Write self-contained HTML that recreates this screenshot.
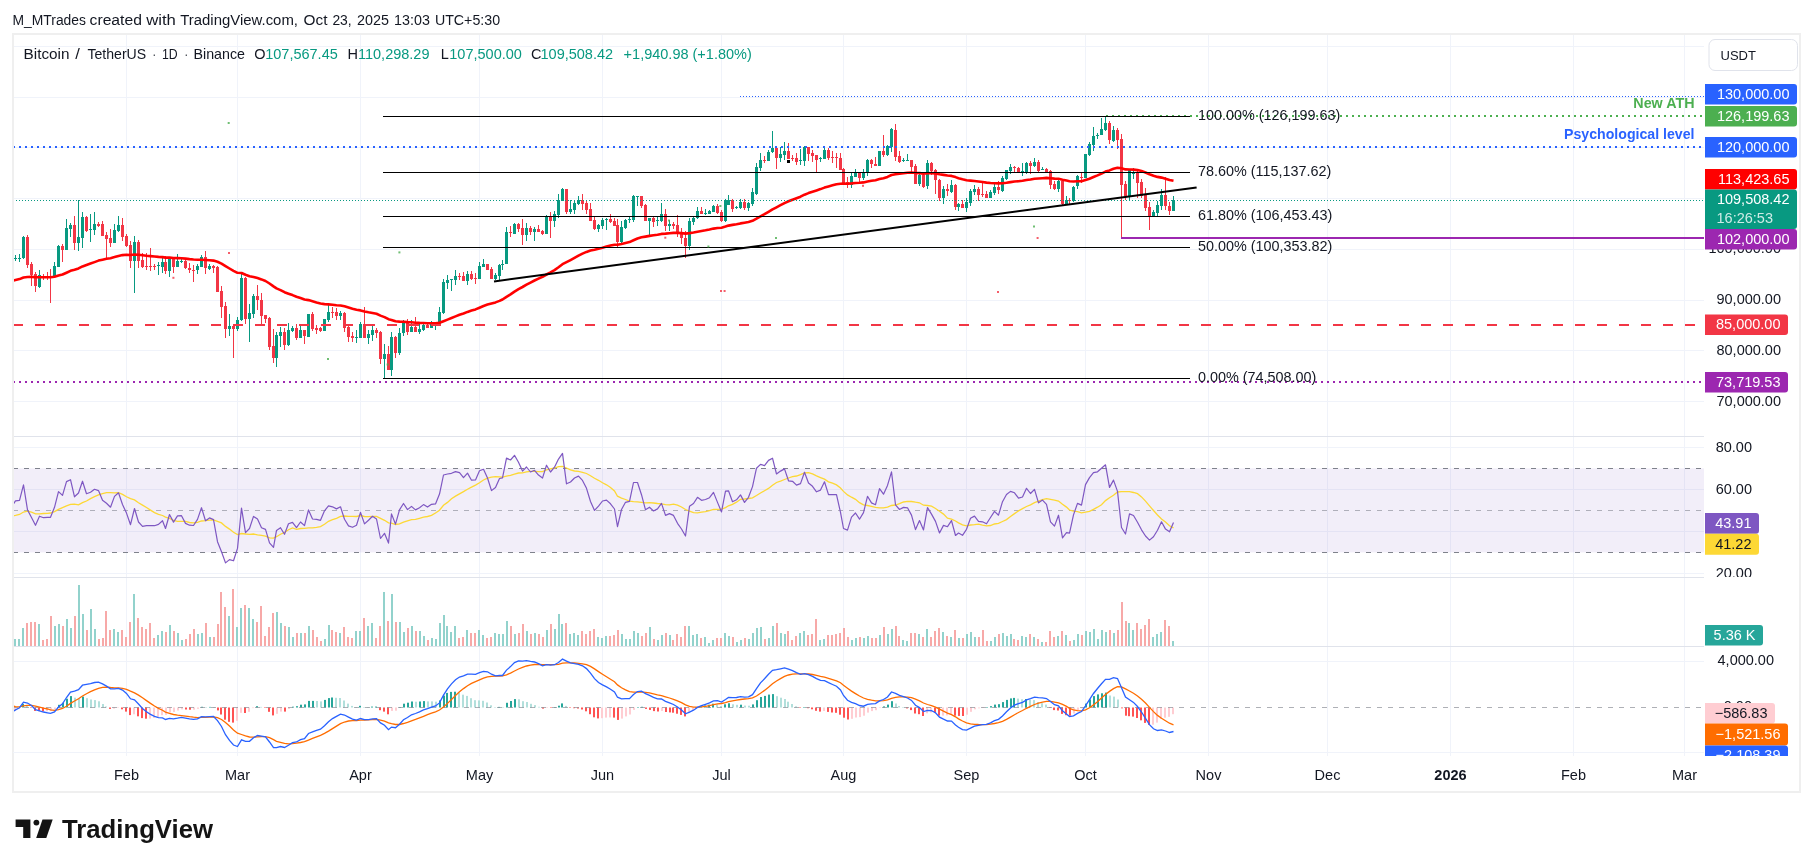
<!DOCTYPE html>
<html><head><meta charset="utf-8"><style>
html,body{margin:0;padding:0;background:#fff;width:1814px;height:867px;overflow:hidden}
svg text{font-family:"Liberation Sans", sans-serif}
svg{will-change:transform}
</style></head><body>
<svg width="1814" height="867" viewBox="0 0 1814 867">
<defs>
<clipPath id="clipc"><rect x="13" y="34" width="1691" height="718"/></clipPath>
<clipPath id="cliprsi"><rect x="1700" y="437" width="100" height="140"/></clipPath><clipPath id="clipm"><rect x="1700" y="646" width="100" height="110"/></clipPath>
</defs>
<rect width="1814" height="867" fill="#fff"/>
<g clip-path="url(#clipc)">
<line x1="126.5" y1="34" x2="126.5" y2="756" stroke="#f0f3fa" stroke-width="1"/>
<line x1="237.5" y1="34" x2="237.5" y2="756" stroke="#f0f3fa" stroke-width="1"/>
<line x1="360.5" y1="34" x2="360.5" y2="756" stroke="#f0f3fa" stroke-width="1"/>
<line x1="479.5" y1="34" x2="479.5" y2="756" stroke="#f0f3fa" stroke-width="1"/>
<line x1="602.5" y1="34" x2="602.5" y2="756" stroke="#f0f3fa" stroke-width="1"/>
<line x1="721.5" y1="34" x2="721.5" y2="756" stroke="#f0f3fa" stroke-width="1"/>
<line x1="843.5" y1="34" x2="843.5" y2="756" stroke="#f0f3fa" stroke-width="1"/>
<line x1="966.5" y1="34" x2="966.5" y2="756" stroke="#f0f3fa" stroke-width="1"/>
<line x1="1085.5" y1="34" x2="1085.5" y2="756" stroke="#f0f3fa" stroke-width="1"/>
<line x1="1208.5" y1="34" x2="1208.5" y2="756" stroke="#f0f3fa" stroke-width="1"/>
<line x1="1327.5" y1="34" x2="1327.5" y2="756" stroke="#f0f3fa" stroke-width="1"/>
<line x1="1450.5" y1="34" x2="1450.5" y2="756" stroke="#f0f3fa" stroke-width="1"/>
<line x1="1573.5" y1="34" x2="1573.5" y2="756" stroke="#f0f3fa" stroke-width="1"/>
<line x1="1684.5" y1="34" x2="1684.5" y2="756" stroke="#f0f3fa" stroke-width="1"/>
<line x1="13" y1="401.5" x2="1704" y2="401.5" stroke="#f0f3fa" stroke-width="1"/>
<line x1="13" y1="350.5" x2="1704" y2="350.5" stroke="#f0f3fa" stroke-width="1"/>
<line x1="13" y1="300.5" x2="1704" y2="300.5" stroke="#f0f3fa" stroke-width="1"/>
<line x1="13" y1="249.5" x2="1704" y2="249.5" stroke="#f0f3fa" stroke-width="1"/>
<line x1="13" y1="198.5" x2="1704" y2="198.5" stroke="#f0f3fa" stroke-width="1"/>
<line x1="13" y1="147.5" x2="1704" y2="147.5" stroke="#f0f3fa" stroke-width="1"/>
<line x1="13" y1="97.5" x2="1704" y2="97.5" stroke="#f0f3fa" stroke-width="1"/>
<line x1="13" y1="46.5" x2="1704" y2="46.5" stroke="#f0f3fa" stroke-width="1"/>
<line x1="13" y1="447.5" x2="1704" y2="447.5" stroke="#f0f3fa" stroke-width="1"/>
<line x1="13" y1="489.5" x2="1704" y2="489.5" stroke="#f0f3fa" stroke-width="1"/>
<line x1="13" y1="531.5" x2="1704" y2="531.5" stroke="#f0f3fa" stroke-width="1"/>
<line x1="13" y1="573.5" x2="1704" y2="573.5" stroke="#f0f3fa" stroke-width="1"/>
<line x1="13" y1="661.5" x2="1704" y2="661.5" stroke="#f0f3fa" stroke-width="1"/>
<line x1="13" y1="436.5" x2="1800" y2="436.5" stroke="#e0e3eb" stroke-width="1"/>
<line x1="13" y1="577.5" x2="1800" y2="577.5" stroke="#e0e3eb" stroke-width="1"/>
<line x1="13" y1="646.5" x2="1800" y2="646.5" stroke="#e0e3eb" stroke-width="1"/>
<line x1="13" y1="752.5" x2="1704" y2="752.5" stroke="#f0f3fa" stroke-width="1"/>
<g shape-rendering="crispEdges"><rect x="15.0" y="255" width="1" height="6" fill="#089981"/><rect x="14.0" y="258" width="3" height="1" fill="#089981"/><rect x="19.0" y="254" width="1" height="8" fill="#089981"/><rect x="18.0" y="258" width="3" height="1" fill="#089981"/><rect x="23.0" y="236" width="1" height="23" fill="#089981"/><rect x="22.0" y="237" width="3" height="21" fill="#089981"/><rect x="27.0" y="235" width="1" height="33" fill="#f23645"/><rect x="26.0" y="237" width="3" height="28" fill="#f23645"/><rect x="31.0" y="262" width="1" height="24" fill="#f23645"/><rect x="30.0" y="264" width="3" height="11" fill="#f23645"/><rect x="35.0" y="272" width="1" height="20" fill="#f23645"/><rect x="34.0" y="274" width="3" height="12" fill="#f23645"/><rect x="39.0" y="270" width="1" height="18" fill="#089981"/><rect x="38.0" y="275" width="3" height="12" fill="#089981"/><rect x="43.0" y="274" width="1" height="6" fill="#f23645"/><rect x="42.0" y="276" width="3" height="2" fill="#f23645"/><rect x="47.0" y="272" width="1" height="8" fill="#f23645"/><rect x="46.0" y="276" width="3" height="1" fill="#f23645"/><rect x="50.0" y="269" width="1" height="34" fill="#f23645"/><rect x="49.0" y="276" width="3" height="1" fill="#f23645"/><rect x="54.0" y="262" width="1" height="15" fill="#089981"/><rect x="53.0" y="266" width="3" height="11" fill="#089981"/><rect x="58.0" y="245" width="1" height="22" fill="#089981"/><rect x="57.0" y="246" width="3" height="21" fill="#089981"/><rect x="62.0" y="244" width="1" height="18" fill="#f23645"/><rect x="61.0" y="246" width="3" height="4" fill="#f23645"/><rect x="66.0" y="219" width="1" height="31" fill="#089981"/><rect x="65.0" y="228" width="3" height="22" fill="#089981"/><rect x="70.0" y="223" width="1" height="14" fill="#089981"/><rect x="69.0" y="225" width="3" height="4" fill="#089981"/><rect x="74.0" y="216" width="1" height="34" fill="#f23645"/><rect x="73.0" y="225" width="3" height="18" fill="#f23645"/><rect x="78.0" y="200" width="1" height="51" fill="#089981"/><rect x="77.0" y="237" width="3" height="6" fill="#089981"/><rect x="82.0" y="212" width="1" height="36" fill="#089981"/><rect x="81.0" y="217" width="3" height="21" fill="#089981"/><rect x="86.0" y="216" width="1" height="16" fill="#f23645"/><rect x="85.0" y="217" width="3" height="14" fill="#f23645"/><rect x="90.0" y="214" width="1" height="28" fill="#089981"/><rect x="89.0" y="229" width="3" height="1" fill="#089981"/><rect x="94.0" y="212" width="1" height="23" fill="#089981"/><rect x="93.0" y="224" width="3" height="6" fill="#089981"/><rect x="98.0" y="222" width="1" height="5" fill="#f23645"/><rect x="97.0" y="224" width="3" height="2" fill="#f23645"/><rect x="102.0" y="221" width="1" height="15" fill="#f23645"/><rect x="101.0" y="224" width="3" height="12" fill="#f23645"/><rect x="106.0" y="232" width="1" height="26" fill="#f23645"/><rect x="105.0" y="235" width="3" height="4" fill="#f23645"/><rect x="110.0" y="229" width="1" height="18" fill="#f23645"/><rect x="109.0" y="238" width="3" height="5" fill="#f23645"/><rect x="114.0" y="224" width="1" height="19" fill="#089981"/><rect x="113.0" y="230" width="3" height="13" fill="#089981"/><rect x="118.0" y="216" width="1" height="16" fill="#089981"/><rect x="117.0" y="225" width="3" height="6" fill="#089981"/><rect x="122.0" y="218" width="1" height="23" fill="#f23645"/><rect x="121.0" y="225" width="3" height="12" fill="#f23645"/><rect x="126.0" y="234" width="1" height="13" fill="#f23645"/><rect x="125.0" y="236" width="3" height="10" fill="#f23645"/><rect x="130.0" y="241" width="1" height="27" fill="#f23645"/><rect x="129.0" y="245" width="3" height="16" fill="#f23645"/><rect x="134.0" y="236" width="1" height="57" fill="#089981"/><rect x="133.0" y="242" width="3" height="19" fill="#089981"/><rect x="138.0" y="240" width="1" height="28" fill="#f23645"/><rect x="137.0" y="242" width="3" height="19" fill="#f23645"/><rect x="142.0" y="253" width="1" height="15" fill="#f23645"/><rect x="141.0" y="260" width="3" height="7" fill="#f23645"/><rect x="146.0" y="253" width="1" height="17" fill="#f23645"/><rect x="145.0" y="266" width="3" height="1" fill="#f23645"/><rect x="150.0" y="248" width="1" height="23" fill="#f23645"/><rect x="149.0" y="266" width="3" height="1" fill="#f23645"/><rect x="154.0" y="264" width="1" height="6" fill="#f23645"/><rect x="153.0" y="266" width="3" height="1" fill="#f23645"/><rect x="158.0" y="262" width="1" height="13" fill="#089981"/><rect x="157.0" y="265" width="3" height="1" fill="#089981"/><rect x="162.0" y="257" width="1" height="16" fill="#089981"/><rect x="161.0" y="262" width="3" height="5" fill="#089981"/><rect x="165.0" y="256" width="1" height="18" fill="#f23645"/><rect x="164.0" y="262" width="3" height="9" fill="#f23645"/><rect x="169.0" y="257" width="1" height="20" fill="#089981"/><rect x="168.0" y="258" width="3" height="13" fill="#089981"/><rect x="173.0" y="257" width="1" height="16" fill="#f23645"/><rect x="172.0" y="258" width="3" height="9" fill="#f23645"/><rect x="177.0" y="254" width="1" height="13" fill="#089981"/><rect x="176.0" y="261" width="3" height="6" fill="#089981"/><rect x="181.0" y="259" width="1" height="4" fill="#089981"/><rect x="180.0" y="261" width="3" height="1" fill="#089981"/><rect x="185.0" y="260" width="1" height="9" fill="#f23645"/><rect x="184.0" y="261" width="3" height="7" fill="#f23645"/><rect x="189.0" y="263" width="1" height="10" fill="#f23645"/><rect x="188.0" y="268" width="3" height="2" fill="#f23645"/><rect x="193.0" y="265" width="1" height="17" fill="#f23645"/><rect x="192.0" y="270" width="3" height="1" fill="#f23645"/><rect x="197.0" y="264" width="1" height="10" fill="#089981"/><rect x="196.0" y="266" width="3" height="4" fill="#089981"/><rect x="201.0" y="255" width="1" height="12" fill="#089981"/><rect x="200.0" y="257" width="3" height="10" fill="#089981"/><rect x="205.0" y="251" width="1" height="23" fill="#f23645"/><rect x="204.0" y="257" width="3" height="11" fill="#f23645"/><rect x="209.0" y="264" width="1" height="6" fill="#089981"/><rect x="208.0" y="266" width="3" height="3" fill="#089981"/><rect x="213.0" y="265" width="1" height="8" fill="#f23645"/><rect x="212.0" y="266" width="3" height="2" fill="#f23645"/><rect x="217.0" y="266" width="1" height="26" fill="#f23645"/><rect x="216.0" y="267" width="3" height="25" fill="#f23645"/><rect x="221.0" y="286" width="1" height="32" fill="#f23645"/><rect x="220.0" y="291" width="3" height="16" fill="#f23645"/><rect x="225.0" y="302" width="1" height="36" fill="#f23645"/><rect x="224.0" y="306" width="3" height="23" fill="#f23645"/><rect x="229.0" y="314" width="1" height="22" fill="#089981"/><rect x="228.0" y="326" width="3" height="3" fill="#089981"/><rect x="233.0" y="324" width="1" height="34" fill="#f23645"/><rect x="232.0" y="326" width="3" height="3" fill="#f23645"/><rect x="237.0" y="317" width="1" height="14" fill="#089981"/><rect x="236.0" y="320" width="3" height="9" fill="#089981"/><rect x="241.0" y="274" width="1" height="47" fill="#089981"/><rect x="240.0" y="278" width="3" height="42" fill="#089981"/><rect x="245.0" y="277" width="1" height="47" fill="#f23645"/><rect x="244.0" y="278" width="3" height="41" fill="#f23645"/><rect x="249.0" y="304" width="1" height="38" fill="#089981"/><rect x="248.0" y="313" width="3" height="6" fill="#089981"/><rect x="253.0" y="294" width="1" height="24" fill="#089981"/><rect x="252.0" y="296" width="3" height="18" fill="#089981"/><rect x="257.0" y="285" width="1" height="25" fill="#f23645"/><rect x="256.0" y="296" width="3" height="4" fill="#f23645"/><rect x="261.0" y="293" width="1" height="31" fill="#f23645"/><rect x="260.0" y="300" width="3" height="16" fill="#f23645"/><rect x="265.0" y="315" width="1" height="8" fill="#f23645"/><rect x="264.0" y="315" width="3" height="4" fill="#f23645"/><rect x="269.0" y="317" width="1" height="33" fill="#f23645"/><rect x="268.0" y="318" width="3" height="29" fill="#f23645"/><rect x="273.0" y="329" width="1" height="34" fill="#f23645"/><rect x="272.0" y="346" width="3" height="12" fill="#f23645"/><rect x="276.0" y="332" width="1" height="35" fill="#089981"/><rect x="275.0" y="335" width="3" height="23" fill="#089981"/><rect x="280.0" y="327" width="1" height="20" fill="#089981"/><rect x="279.0" y="332" width="3" height="4" fill="#089981"/><rect x="284.0" y="328" width="1" height="22" fill="#f23645"/><rect x="283.0" y="332" width="3" height="13" fill="#f23645"/><rect x="288.0" y="323" width="1" height="23" fill="#089981"/><rect x="287.0" y="330" width="3" height="15" fill="#089981"/><rect x="292.0" y="326" width="1" height="6" fill="#089981"/><rect x="291.0" y="328" width="3" height="3" fill="#089981"/><rect x="296.0" y="324" width="1" height="16" fill="#f23645"/><rect x="295.0" y="328" width="3" height="10" fill="#f23645"/><rect x="300.0" y="326" width="1" height="12" fill="#089981"/><rect x="299.0" y="330" width="3" height="8" fill="#089981"/><rect x="304.0" y="330" width="1" height="14" fill="#f23645"/><rect x="303.0" y="330" width="3" height="6" fill="#f23645"/><rect x="308.0" y="314" width="1" height="23" fill="#089981"/><rect x="307.0" y="314" width="3" height="23" fill="#089981"/><rect x="312.0" y="312" width="1" height="19" fill="#f23645"/><rect x="311.0" y="314" width="3" height="15" fill="#f23645"/><rect x="316.0" y="325" width="1" height="9" fill="#f23645"/><rect x="315.0" y="328" width="3" height="2" fill="#f23645"/><rect x="320.0" y="327" width="1" height="5" fill="#f23645"/><rect x="319.0" y="328" width="3" height="3" fill="#f23645"/><rect x="324.0" y="319" width="1" height="12" fill="#089981"/><rect x="323.0" y="319" width="3" height="12" fill="#089981"/><rect x="328.0" y="305" width="1" height="17" fill="#089981"/><rect x="327.0" y="312" width="3" height="8" fill="#089981"/><rect x="332.0" y="307" width="1" height="11" fill="#f23645"/><rect x="331.0" y="312" width="3" height="1" fill="#f23645"/><rect x="336.0" y="308" width="1" height="12" fill="#f23645"/><rect x="335.0" y="312" width="3" height="4" fill="#f23645"/><rect x="340.0" y="311" width="1" height="9" fill="#089981"/><rect x="339.0" y="313" width="3" height="3" fill="#089981"/><rect x="344.0" y="312" width="1" height="20" fill="#f23645"/><rect x="343.0" y="313" width="3" height="15" fill="#f23645"/><rect x="348.0" y="326" width="1" height="16" fill="#f23645"/><rect x="347.0" y="327" width="3" height="10" fill="#f23645"/><rect x="352.0" y="332" width="1" height="10" fill="#f23645"/><rect x="351.0" y="336" width="3" height="2" fill="#f23645"/><rect x="356.0" y="330" width="1" height="13" fill="#089981"/><rect x="355.0" y="337" width="3" height="1" fill="#089981"/><rect x="360.0" y="322" width="1" height="16" fill="#089981"/><rect x="359.0" y="324" width="3" height="14" fill="#089981"/><rect x="364.0" y="307" width="1" height="31" fill="#f23645"/><rect x="363.0" y="324" width="3" height="14" fill="#f23645"/><rect x="368.0" y="330" width="1" height="14" fill="#089981"/><rect x="367.0" y="334" width="3" height="4" fill="#089981"/><rect x="372.0" y="326" width="1" height="15" fill="#089981"/><rect x="371.0" y="330" width="3" height="5" fill="#089981"/><rect x="376.0" y="328" width="1" height="10" fill="#f23645"/><rect x="375.0" y="330" width="3" height="3" fill="#f23645"/><rect x="380.0" y="331" width="1" height="33" fill="#f23645"/><rect x="379.0" y="332" width="3" height="27" fill="#f23645"/><rect x="384.0" y="344" width="1" height="34" fill="#089981"/><rect x="383.0" y="354" width="3" height="5" fill="#089981"/><rect x="388.0" y="346" width="1" height="24" fill="#f23645"/><rect x="387.0" y="354" width="3" height="16" fill="#f23645"/><rect x="391.0" y="332" width="1" height="44" fill="#089981"/><rect x="390.0" y="337" width="3" height="33" fill="#089981"/><rect x="395.0" y="336" width="1" height="22" fill="#f23645"/><rect x="394.0" y="337" width="3" height="16" fill="#f23645"/><rect x="399.0" y="328" width="1" height="27" fill="#089981"/><rect x="398.0" y="333" width="3" height="20" fill="#089981"/><rect x="403.0" y="320" width="1" height="16" fill="#089981"/><rect x="402.0" y="323" width="3" height="10" fill="#089981"/><rect x="407.0" y="319" width="1" height="16" fill="#f23645"/><rect x="406.0" y="323" width="3" height="9" fill="#f23645"/><rect x="411.0" y="320" width="1" height="12" fill="#089981"/><rect x="410.0" y="327" width="3" height="5" fill="#089981"/><rect x="415.0" y="317" width="1" height="15" fill="#f23645"/><rect x="414.0" y="327" width="3" height="5" fill="#f23645"/><rect x="419.0" y="322" width="1" height="12" fill="#089981"/><rect x="418.0" y="329" width="3" height="3" fill="#089981"/><rect x="423.0" y="322" width="1" height="9" fill="#089981"/><rect x="422.0" y="325" width="3" height="5" fill="#089981"/><rect x="427.0" y="324" width="1" height="4" fill="#f23645"/><rect x="426.0" y="325" width="3" height="3" fill="#f23645"/><rect x="431.0" y="321" width="1" height="7" fill="#089981"/><rect x="430.0" y="324" width="3" height="4" fill="#089981"/><rect x="435.0" y="323" width="1" height="7" fill="#089981"/><rect x="434.0" y="324" width="3" height="1" fill="#089981"/><rect x="439.0" y="307" width="1" height="17" fill="#089981"/><rect x="438.0" y="312" width="3" height="12" fill="#089981"/><rect x="443.0" y="279" width="1" height="35" fill="#089981"/><rect x="442.0" y="282" width="3" height="31" fill="#089981"/><rect x="447.0" y="275" width="1" height="14" fill="#089981"/><rect x="446.0" y="280" width="3" height="3" fill="#089981"/><rect x="451.0" y="279" width="1" height="12" fill="#089981"/><rect x="450.0" y="279" width="3" height="1" fill="#089981"/><rect x="455.0" y="270" width="1" height="15" fill="#089981"/><rect x="454.0" y="276" width="3" height="4" fill="#089981"/><rect x="459.0" y="273" width="1" height="7" fill="#f23645"/><rect x="458.0" y="276" width="3" height="1" fill="#f23645"/><rect x="463.0" y="272" width="1" height="9" fill="#f23645"/><rect x="462.0" y="276" width="3" height="5" fill="#f23645"/><rect x="467.0" y="271" width="1" height="14" fill="#089981"/><rect x="466.0" y="274" width="3" height="7" fill="#089981"/><rect x="471.0" y="271" width="1" height="9" fill="#f23645"/><rect x="470.0" y="274" width="3" height="5" fill="#f23645"/><rect x="475.0" y="273" width="1" height="11" fill="#f23645"/><rect x="474.0" y="278" width="3" height="1" fill="#f23645"/><rect x="479.0" y="262" width="1" height="17" fill="#089981"/><rect x="478.0" y="266" width="3" height="13" fill="#089981"/><rect x="483.0" y="259" width="1" height="8" fill="#089981"/><rect x="482.0" y="264" width="3" height="3" fill="#089981"/><rect x="487.0" y="264" width="1" height="6" fill="#f23645"/><rect x="486.0" y="264" width="3" height="6" fill="#f23645"/><rect x="491.0" y="267" width="1" height="12" fill="#f23645"/><rect x="490.0" y="269" width="3" height="10" fill="#f23645"/><rect x="495.0" y="273" width="1" height="7" fill="#089981"/><rect x="494.0" y="275" width="3" height="4" fill="#089981"/><rect x="499.0" y="264" width="1" height="16" fill="#089981"/><rect x="498.0" y="265" width="3" height="11" fill="#089981"/><rect x="502.0" y="260" width="1" height="10" fill="#089981"/><rect x="501.0" y="264" width="3" height="1" fill="#089981"/><rect x="506.0" y="227" width="1" height="37" fill="#089981"/><rect x="505.0" y="232" width="3" height="32" fill="#089981"/><rect x="510.0" y="226" width="1" height="11" fill="#f23645"/><rect x="509.0" y="232" width="3" height="1" fill="#f23645"/><rect x="514.0" y="223" width="1" height="11" fill="#089981"/><rect x="513.0" y="224" width="3" height="10" fill="#089981"/><rect x="518.0" y="223" width="1" height="9" fill="#f23645"/><rect x="517.0" y="224" width="3" height="5" fill="#f23645"/><rect x="522.0" y="219" width="1" height="26" fill="#f23645"/><rect x="521.0" y="228" width="3" height="7" fill="#f23645"/><rect x="526.0" y="223" width="1" height="18" fill="#089981"/><rect x="525.0" y="228" width="3" height="7" fill="#089981"/><rect x="530.0" y="226" width="1" height="9" fill="#f23645"/><rect x="529.0" y="228" width="3" height="4" fill="#f23645"/><rect x="534.0" y="227" width="1" height="14" fill="#089981"/><rect x="533.0" y="229" width="3" height="3" fill="#089981"/><rect x="538.0" y="225" width="1" height="7" fill="#f23645"/><rect x="537.0" y="229" width="3" height="3" fill="#f23645"/><rect x="542.0" y="230" width="1" height="5" fill="#f23645"/><rect x="541.0" y="231" width="3" height="3" fill="#f23645"/><rect x="546.0" y="215" width="1" height="19" fill="#089981"/><rect x="545.0" y="216" width="3" height="18" fill="#089981"/><rect x="550.0" y="212" width="1" height="26" fill="#f23645"/><rect x="549.0" y="217" width="3" height="4" fill="#f23645"/><rect x="554.0" y="211" width="1" height="16" fill="#089981"/><rect x="553.0" y="214" width="3" height="7" fill="#089981"/><rect x="558.0" y="194" width="1" height="24" fill="#089981"/><rect x="557.0" y="200" width="3" height="15" fill="#089981"/><rect x="562.0" y="188" width="1" height="13" fill="#089981"/><rect x="561.0" y="189" width="3" height="12" fill="#089981"/><rect x="566.0" y="189" width="1" height="25" fill="#f23645"/><rect x="565.0" y="189" width="3" height="23" fill="#f23645"/><rect x="570.0" y="200" width="1" height="14" fill="#089981"/><rect x="569.0" y="209" width="3" height="3" fill="#089981"/><rect x="574.0" y="200" width="1" height="14" fill="#089981"/><rect x="573.0" y="203" width="3" height="7" fill="#089981"/><rect x="578.0" y="196" width="1" height="9" fill="#089981"/><rect x="577.0" y="200" width="3" height="4" fill="#089981"/><rect x="582.0" y="194" width="1" height="16" fill="#f23645"/><rect x="581.0" y="200" width="3" height="4" fill="#f23645"/><rect x="586.0" y="201" width="1" height="13" fill="#f23645"/><rect x="585.0" y="203" width="3" height="7" fill="#f23645"/><rect x="590.0" y="203" width="1" height="18" fill="#f23645"/><rect x="589.0" y="209" width="3" height="12" fill="#f23645"/><rect x="594.0" y="217" width="1" height="13" fill="#f23645"/><rect x="593.0" y="220" width="3" height="9" fill="#f23645"/><rect x="598.0" y="224" width="1" height="8" fill="#089981"/><rect x="597.0" y="225" width="3" height="4" fill="#089981"/><rect x="602.0" y="218" width="1" height="11" fill="#089981"/><rect x="601.0" y="220" width="3" height="6" fill="#089981"/><rect x="606.0" y="218" width="1" height="12" fill="#089981"/><rect x="605.0" y="219" width="3" height="1" fill="#089981"/><rect x="610.0" y="214" width="1" height="9" fill="#f23645"/><rect x="609.0" y="219" width="3" height="3" fill="#f23645"/><rect x="614.0" y="218" width="1" height="8" fill="#f23645"/><rect x="613.0" y="221" width="3" height="5" fill="#f23645"/><rect x="617.0" y="219" width="1" height="28" fill="#f23645"/><rect x="616.0" y="225" width="3" height="17" fill="#f23645"/><rect x="621.0" y="221" width="1" height="22" fill="#089981"/><rect x="620.0" y="227" width="3" height="15" fill="#089981"/><rect x="625.0" y="219" width="1" height="10" fill="#089981"/><rect x="624.0" y="220" width="3" height="8" fill="#089981"/><rect x="629.0" y="217" width="1" height="6" fill="#089981"/><rect x="628.0" y="219" width="3" height="1" fill="#089981"/><rect x="633.0" y="195" width="1" height="27" fill="#089981"/><rect x="632.0" y="196" width="3" height="24" fill="#089981"/><rect x="637.0" y="196" width="1" height="10" fill="#089981"/><rect x="636.0" y="196" width="3" height="1" fill="#089981"/><rect x="641.0" y="196" width="1" height="12" fill="#f23645"/><rect x="640.0" y="196" width="3" height="10" fill="#f23645"/><rect x="645.0" y="204" width="1" height="17" fill="#f23645"/><rect x="644.0" y="205" width="3" height="16" fill="#f23645"/><rect x="649.0" y="218" width="1" height="17" fill="#089981"/><rect x="648.0" y="218" width="3" height="3" fill="#089981"/><rect x="653.0" y="217" width="1" height="10" fill="#f23645"/><rect x="652.0" y="218" width="3" height="4" fill="#f23645"/><rect x="657.0" y="217" width="1" height="9" fill="#089981"/><rect x="656.0" y="220" width="3" height="1" fill="#089981"/><rect x="661.0" y="203" width="1" height="19" fill="#089981"/><rect x="660.0" y="214" width="3" height="7" fill="#089981"/><rect x="665.0" y="209" width="1" height="22" fill="#f23645"/><rect x="664.0" y="214" width="3" height="12" fill="#f23645"/><rect x="669.0" y="220" width="1" height="11" fill="#089981"/><rect x="668.0" y="224" width="3" height="2" fill="#089981"/><rect x="673.0" y="222" width="1" height="7" fill="#f23645"/><rect x="672.0" y="224" width="3" height="2" fill="#f23645"/><rect x="677.0" y="215" width="1" height="22" fill="#f23645"/><rect x="676.0" y="225" width="3" height="8" fill="#f23645"/><rect x="681.0" y="228" width="1" height="16" fill="#f23645"/><rect x="680.0" y="232" width="3" height="6" fill="#f23645"/><rect x="685.0" y="231" width="1" height="27" fill="#f23645"/><rect x="684.0" y="238" width="3" height="8" fill="#f23645"/><rect x="689.0" y="218" width="1" height="32" fill="#089981"/><rect x="688.0" y="221" width="3" height="25" fill="#089981"/><rect x="693.0" y="216" width="1" height="9" fill="#089981"/><rect x="692.0" y="218" width="3" height="4" fill="#089981"/><rect x="697.0" y="207" width="1" height="12" fill="#089981"/><rect x="696.0" y="211" width="3" height="7" fill="#089981"/><rect x="701.0" y="207" width="1" height="7" fill="#f23645"/><rect x="700.0" y="211" width="3" height="3" fill="#f23645"/><rect x="705.0" y="209" width="1" height="6" fill="#089981"/><rect x="704.0" y="213" width="3" height="1" fill="#089981"/><rect x="709.0" y="210" width="1" height="4" fill="#089981"/><rect x="708.0" y="211" width="3" height="3" fill="#089981"/><rect x="713.0" y="205" width="1" height="7" fill="#089981"/><rect x="712.0" y="206" width="3" height="6" fill="#089981"/><rect x="717.0" y="204" width="1" height="10" fill="#f23645"/><rect x="716.0" y="206" width="3" height="7" fill="#f23645"/><rect x="721.0" y="210" width="1" height="12" fill="#f23645"/><rect x="720.0" y="212" width="3" height="9" fill="#f23645"/><rect x="725.0" y="199" width="1" height="23" fill="#089981"/><rect x="724.0" y="200" width="3" height="21" fill="#089981"/><rect x="728.0" y="195" width="1" height="10" fill="#089981"/><rect x="727.0" y="200" width="3" height="5" fill="#089981"/><rect x="732.0" y="199" width="1" height="13" fill="#f23645"/><rect x="731.0" y="200" width="3" height="9" fill="#f23645"/><rect x="736.0" y="206" width="1" height="3" fill="#089981"/><rect x="735.0" y="207" width="3" height="1" fill="#089981"/><rect x="740.0" y="199" width="1" height="10" fill="#089981"/><rect x="739.0" y="202" width="3" height="6" fill="#089981"/><rect x="744.0" y="199" width="1" height="11" fill="#f23645"/><rect x="743.0" y="202" width="3" height="6" fill="#f23645"/><rect x="748.0" y="202" width="1" height="9" fill="#089981"/><rect x="747.0" y="203" width="3" height="5" fill="#089981"/><rect x="752.0" y="188" width="1" height="18" fill="#089981"/><rect x="751.0" y="192" width="3" height="12" fill="#089981"/><rect x="756.0" y="163" width="1" height="32" fill="#089981"/><rect x="755.0" y="167" width="3" height="27" fill="#089981"/><rect x="760.0" y="153" width="1" height="18" fill="#089981"/><rect x="759.0" y="160" width="3" height="8" fill="#089981"/><rect x="764.0" y="156" width="1" height="7" fill="#f23645"/><rect x="763.0" y="160" width="3" height="1" fill="#f23645"/><rect x="768.0" y="150" width="1" height="11" fill="#089981"/><rect x="767.0" y="152" width="3" height="9" fill="#089981"/><rect x="772.0" y="131" width="1" height="22" fill="#089981"/><rect x="771.0" y="148" width="3" height="4" fill="#089981"/><rect x="776.0" y="147" width="1" height="22" fill="#f23645"/><rect x="775.0" y="148" width="3" height="10" fill="#f23645"/><rect x="780.0" y="147" width="1" height="15" fill="#089981"/><rect x="779.0" y="154" width="3" height="4" fill="#089981"/><rect x="784.0" y="142" width="1" height="18" fill="#089981"/><rect x="783.0" y="151" width="3" height="4" fill="#089981"/><rect x="788.0" y="143" width="1" height="16" fill="#f23645"/><rect x="787.0" y="151" width="3" height="8" fill="#f23645"/><rect x="792.0" y="155" width="1" height="6" fill="#f23645"/><rect x="791.0" y="158" width="3" height="1" fill="#f23645"/><rect x="796.0" y="153" width="1" height="12" fill="#f23645"/><rect x="795.0" y="158" width="3" height="4" fill="#f23645"/><rect x="800.0" y="149" width="1" height="16" fill="#089981"/><rect x="799.0" y="160" width="3" height="1" fill="#089981"/><rect x="804.0" y="146" width="1" height="20" fill="#089981"/><rect x="803.0" y="147" width="3" height="14" fill="#089981"/><rect x="808.0" y="147" width="1" height="14" fill="#f23645"/><rect x="807.0" y="147" width="3" height="7" fill="#f23645"/><rect x="812.0" y="150" width="1" height="12" fill="#f23645"/><rect x="811.0" y="153" width="3" height="3" fill="#f23645"/><rect x="816.0" y="155" width="1" height="18" fill="#f23645"/><rect x="815.0" y="155" width="3" height="5" fill="#f23645"/><rect x="820.0" y="157" width="1" height="5" fill="#089981"/><rect x="819.0" y="158" width="3" height="1" fill="#089981"/><rect x="824.0" y="148" width="1" height="11" fill="#089981"/><rect x="823.0" y="150" width="3" height="9" fill="#089981"/><rect x="828.0" y="148" width="1" height="12" fill="#f23645"/><rect x="827.0" y="150" width="3" height="8" fill="#f23645"/><rect x="832.0" y="151" width="1" height="12" fill="#f23645"/><rect x="831.0" y="157" width="3" height="1" fill="#f23645"/><rect x="836.0" y="153" width="1" height="15" fill="#f23645"/><rect x="835.0" y="157" width="3" height="1" fill="#f23645"/><rect x="840.0" y="153" width="1" height="17" fill="#f23645"/><rect x="839.0" y="158" width="3" height="12" fill="#f23645"/><rect x="843.0" y="168" width="1" height="15" fill="#f23645"/><rect x="842.0" y="169" width="3" height="14" fill="#f23645"/><rect x="847.0" y="177" width="1" height="11" fill="#f23645"/><rect x="846.0" y="182" width="3" height="3" fill="#f23645"/><rect x="851.0" y="173" width="1" height="15" fill="#089981"/><rect x="850.0" y="176" width="3" height="9" fill="#089981"/><rect x="855.0" y="169" width="1" height="8" fill="#089981"/><rect x="854.0" y="173" width="3" height="4" fill="#089981"/><rect x="859.0" y="173" width="1" height="10" fill="#f23645"/><rect x="858.0" y="173" width="3" height="5" fill="#f23645"/><rect x="863.0" y="169" width="1" height="11" fill="#089981"/><rect x="862.0" y="173" width="3" height="5" fill="#089981"/><rect x="867.0" y="159" width="1" height="17" fill="#089981"/><rect x="866.0" y="160" width="3" height="13" fill="#089981"/><rect x="871.0" y="159" width="1" height="9" fill="#f23645"/><rect x="870.0" y="160" width="3" height="4" fill="#f23645"/><rect x="875.0" y="157" width="1" height="9" fill="#f23645"/><rect x="874.0" y="164" width="3" height="2" fill="#f23645"/><rect x="879.0" y="151" width="1" height="15" fill="#089981"/><rect x="878.0" y="151" width="3" height="15" fill="#089981"/><rect x="883.0" y="135" width="1" height="22" fill="#f23645"/><rect x="882.0" y="151" width="3" height="4" fill="#f23645"/><rect x="887.0" y="145" width="1" height="11" fill="#089981"/><rect x="886.0" y="146" width="3" height="9" fill="#089981"/><rect x="891.0" y="128" width="1" height="24" fill="#089981"/><rect x="890.0" y="129" width="3" height="18" fill="#089981"/><rect x="895.0" y="124" width="1" height="37" fill="#f23645"/><rect x="894.0" y="130" width="3" height="27" fill="#f23645"/><rect x="899.0" y="151" width="1" height="12" fill="#f23645"/><rect x="898.0" y="156" width="3" height="6" fill="#f23645"/><rect x="903.0" y="158" width="1" height="4" fill="#089981"/><rect x="902.0" y="160" width="3" height="1" fill="#089981"/><rect x="907.0" y="154" width="1" height="7" fill="#089981"/><rect x="906.0" y="160" width="3" height="1" fill="#089981"/><rect x="911.0" y="160" width="1" height="12" fill="#f23645"/><rect x="910.0" y="160" width="3" height="7" fill="#f23645"/><rect x="915.0" y="164" width="1" height="20" fill="#f23645"/><rect x="914.0" y="166" width="3" height="18" fill="#f23645"/><rect x="919.0" y="174" width="1" height="12" fill="#089981"/><rect x="918.0" y="175" width="3" height="9" fill="#089981"/><rect x="923.0" y="173" width="1" height="15" fill="#f23645"/><rect x="922.0" y="175" width="3" height="12" fill="#f23645"/><rect x="927.0" y="160" width="1" height="29" fill="#089981"/><rect x="926.0" y="163" width="3" height="23" fill="#089981"/><rect x="931.0" y="162" width="1" height="13" fill="#f23645"/><rect x="930.0" y="163" width="3" height="8" fill="#f23645"/><rect x="935.0" y="169" width="1" height="25" fill="#f23645"/><rect x="934.0" y="170" width="3" height="10" fill="#f23645"/><rect x="939.0" y="179" width="1" height="22" fill="#f23645"/><rect x="938.0" y="180" width="3" height="18" fill="#f23645"/><rect x="943.0" y="186" width="1" height="18" fill="#089981"/><rect x="942.0" y="189" width="3" height="9" fill="#089981"/><rect x="947.0" y="184" width="1" height="12" fill="#f23645"/><rect x="946.0" y="189" width="3" height="2" fill="#f23645"/><rect x="951.0" y="180" width="1" height="13" fill="#089981"/><rect x="950.0" y="185" width="3" height="7" fill="#089981"/><rect x="955.0" y="184" width="1" height="26" fill="#f23645"/><rect x="954.0" y="185" width="3" height="22" fill="#f23645"/><rect x="958.0" y="203" width="1" height="8" fill="#089981"/><rect x="957.0" y="204" width="3" height="3" fill="#089981"/><rect x="962.0" y="200" width="1" height="8" fill="#f23645"/><rect x="961.0" y="204" width="3" height="4" fill="#f23645"/><rect x="966.0" y="198" width="1" height="14" fill="#089981"/><rect x="965.0" y="202" width="3" height="6" fill="#089981"/><rect x="970.0" y="189" width="1" height="17" fill="#089981"/><rect x="969.0" y="191" width="3" height="12" fill="#089981"/><rect x="974.0" y="185" width="1" height="10" fill="#089981"/><rect x="973.0" y="189" width="3" height="3" fill="#089981"/><rect x="978.0" y="187" width="1" height="14" fill="#f23645"/><rect x="977.0" y="189" width="3" height="6" fill="#f23645"/><rect x="982.0" y="181" width="1" height="16" fill="#f23645"/><rect x="981.0" y="194" width="3" height="1" fill="#f23645"/><rect x="986.0" y="191" width="1" height="7" fill="#f23645"/><rect x="985.0" y="194" width="3" height="4" fill="#f23645"/><rect x="990.0" y="190" width="1" height="8" fill="#089981"/><rect x="989.0" y="192" width="3" height="6" fill="#089981"/><rect x="994.0" y="183" width="1" height="12" fill="#089981"/><rect x="993.0" y="187" width="3" height="6" fill="#089981"/><rect x="998.0" y="181" width="1" height="13" fill="#f23645"/><rect x="997.0" y="187" width="3" height="3" fill="#f23645"/><rect x="1002.0" y="176" width="1" height="16" fill="#089981"/><rect x="1001.0" y="178" width="3" height="13" fill="#089981"/><rect x="1006.0" y="170" width="1" height="10" fill="#089981"/><rect x="1005.0" y="170" width="3" height="9" fill="#089981"/><rect x="1010.0" y="164" width="1" height="10" fill="#089981"/><rect x="1009.0" y="167" width="3" height="4" fill="#089981"/><rect x="1014.0" y="166" width="1" height="6" fill="#f23645"/><rect x="1013.0" y="167" width="3" height="1" fill="#f23645"/><rect x="1018.0" y="167" width="1" height="5" fill="#f23645"/><rect x="1017.0" y="168" width="3" height="4" fill="#f23645"/><rect x="1022.0" y="163" width="1" height="13" fill="#089981"/><rect x="1021.0" y="171" width="3" height="1" fill="#089981"/><rect x="1026.0" y="162" width="1" height="12" fill="#089981"/><rect x="1025.0" y="163" width="3" height="9" fill="#089981"/><rect x="1030.0" y="161" width="1" height="13" fill="#f23645"/><rect x="1029.0" y="163" width="3" height="3" fill="#f23645"/><rect x="1034.0" y="158" width="1" height="9" fill="#089981"/><rect x="1033.0" y="162" width="3" height="4" fill="#089981"/><rect x="1038.0" y="160" width="1" height="12" fill="#f23645"/><rect x="1037.0" y="162" width="3" height="9" fill="#f23645"/><rect x="1042.0" y="167" width="1" height="3" fill="#089981"/><rect x="1041.0" y="169" width="3" height="1" fill="#089981"/><rect x="1046.0" y="168" width="1" height="4" fill="#f23645"/><rect x="1045.0" y="169" width="3" height="3" fill="#f23645"/><rect x="1050.0" y="170" width="1" height="19" fill="#f23645"/><rect x="1049.0" y="171" width="3" height="14" fill="#f23645"/><rect x="1054.0" y="181" width="1" height="9" fill="#f23645"/><rect x="1053.0" y="184" width="3" height="5" fill="#f23645"/><rect x="1058.0" y="178" width="1" height="14" fill="#089981"/><rect x="1057.0" y="181" width="3" height="8" fill="#089981"/><rect x="1062.0" y="180" width="1" height="25" fill="#f23645"/><rect x="1061.0" y="181" width="3" height="23" fill="#f23645"/><rect x="1066.0" y="196" width="1" height="8" fill="#089981"/><rect x="1065.0" y="200" width="3" height="4" fill="#089981"/><rect x="1069.0" y="198" width="1" height="6" fill="#f23645"/><rect x="1068.0" y="200" width="3" height="1" fill="#f23645"/><rect x="1073.0" y="186" width="1" height="16" fill="#089981"/><rect x="1072.0" y="187" width="3" height="14" fill="#089981"/><rect x="1077.0" y="175" width="1" height="14" fill="#089981"/><rect x="1076.0" y="176" width="3" height="10" fill="#089981"/><rect x="1081.0" y="173" width="1" height="10" fill="#f23645"/><rect x="1080.0" y="177" width="3" height="1" fill="#f23645"/><rect x="1085.0" y="154" width="1" height="24" fill="#089981"/><rect x="1084.0" y="154" width="3" height="24" fill="#089981"/><rect x="1089.0" y="142" width="1" height="14" fill="#089981"/><rect x="1088.0" y="144" width="3" height="11" fill="#089981"/><rect x="1093.0" y="127" width="1" height="24" fill="#089981"/><rect x="1092.0" y="136" width="3" height="9" fill="#089981"/><rect x="1097.0" y="133" width="1" height="6" fill="#089981"/><rect x="1096.0" y="135" width="3" height="1" fill="#089981"/><rect x="1101.0" y="118" width="1" height="17" fill="#089981"/><rect x="1100.0" y="129" width="3" height="6" fill="#089981"/><rect x="1105.0" y="116" width="1" height="15" fill="#089981"/><rect x="1104.0" y="123" width="3" height="7" fill="#089981"/><rect x="1109.0" y="121" width="1" height="23" fill="#f23645"/><rect x="1108.0" y="123" width="3" height="17" fill="#f23645"/><rect x="1113.0" y="126" width="1" height="16" fill="#089981"/><rect x="1112.0" y="130" width="3" height="11" fill="#089981"/><rect x="1117.0" y="128" width="1" height="21" fill="#f23645"/><rect x="1116.0" y="130" width="3" height="10" fill="#f23645"/><rect x="1121.0" y="134" width="1" height="104" fill="#f23645"/><rect x="1120.0" y="139" width="3" height="46" fill="#f23645"/><rect x="1125.0" y="181" width="1" height="19" fill="#f23645"/><rect x="1124.0" y="184" width="3" height="12" fill="#f23645"/><rect x="1129.0" y="169" width="1" height="32" fill="#089981"/><rect x="1128.0" y="170" width="3" height="26" fill="#089981"/><rect x="1133.0" y="168" width="1" height="11" fill="#089981"/><rect x="1132.0" y="172" width="3" height="2" fill="#089981"/><rect x="1137.0" y="171" width="1" height="27" fill="#f23645"/><rect x="1136.0" y="172" width="3" height="11" fill="#f23645"/><rect x="1141.0" y="179" width="1" height="19" fill="#f23645"/><rect x="1140.0" y="182" width="3" height="14" fill="#f23645"/><rect x="1145.0" y="188" width="1" height="23" fill="#f23645"/><rect x="1144.0" y="195" width="3" height="13" fill="#f23645"/><rect x="1149.0" y="202" width="1" height="28" fill="#f23645"/><rect x="1148.0" y="207" width="3" height="9" fill="#f23645"/><rect x="1153.0" y="210" width="1" height="6" fill="#089981"/><rect x="1152.0" y="212" width="3" height="4" fill="#089981"/><rect x="1157.0" y="201" width="1" height="16" fill="#089981"/><rect x="1156.0" y="205" width="3" height="8" fill="#089981"/><rect x="1161.0" y="189" width="1" height="21" fill="#089981"/><rect x="1160.0" y="195" width="3" height="11" fill="#089981"/><rect x="1165.0" y="177" width="1" height="33" fill="#f23645"/><rect x="1164.0" y="195" width="3" height="11" fill="#f23645"/><rect x="1169.0" y="202" width="1" height="13" fill="#f23645"/><rect x="1168.0" y="206" width="3" height="5" fill="#f23645"/><rect x="1173.0" y="196" width="1" height="15" fill="#089981"/><rect x="1172.0" y="200" width="3" height="11" fill="#089981"/></g>
<polyline fill="none" stroke="#ff0000" stroke-width="2.6" stroke-linejoin="round" points="11.5,280.9 15.5,280.0 19.5,279.1 23.5,277.5 27.5,277.0 31.5,276.9 35.5,277.3 39.5,277.2 43.5,277.2 47.5,277.2 50.5,277.2 54.5,276.8 58.5,275.5 62.5,274.5 66.5,272.7 70.5,270.8 74.5,269.7 78.5,268.4 82.5,266.4 86.5,265.0 90.5,263.6 94.5,262.1 98.5,260.6 102.5,259.7 106.5,258.8 110.5,258.2 114.5,257.1 118.5,255.9 122.5,255.1 126.5,254.8 130.5,255.0 134.5,254.5 138.5,254.7 142.5,255.2 146.5,255.7 150.5,256.1 154.5,256.5 158.5,256.9 162.5,257.1 165.5,257.6 169.5,257.6 173.5,258.0 177.5,258.1 181.5,258.2 185.5,258.6 189.5,259.1 193.5,259.5 197.5,259.8 201.5,259.7 205.5,260.0 209.5,260.3 213.5,260.6 217.5,261.8 221.5,263.6 225.5,266.1 229.5,268.5 233.5,270.8 237.5,272.8 241.5,273.0 245.5,274.8 249.5,276.3 253.5,277.0 257.5,278.0 261.5,279.4 265.5,281.0 269.5,283.5 273.5,286.4 276.5,288.4 280.5,290.1 284.5,292.2 288.5,293.7 292.5,295.1 296.5,296.7 300.5,298.0 304.5,299.5 308.5,300.1 312.5,301.2 316.5,302.4 320.5,303.5 324.5,304.1 328.5,304.4 332.5,304.7 336.5,305.2 340.5,305.5 344.5,306.3 348.5,307.5 352.5,308.7 356.5,309.8 360.5,310.4 364.5,311.5 368.5,312.3 372.5,313.0 376.5,313.8 380.5,315.6 384.5,317.1 388.5,319.2 391.5,319.9 395.5,321.2 399.5,321.6 403.5,321.7 407.5,322.1 411.5,322.3 415.5,322.7 419.5,322.9 423.5,323.0 427.5,323.2 431.5,323.2 435.5,323.2 439.5,322.8 443.5,321.2 447.5,319.6 451.5,318.0 455.5,316.4 459.5,314.8 463.5,313.5 467.5,311.9 471.5,310.6 475.5,309.4 479.5,307.7 483.5,306.0 487.5,304.6 491.5,303.5 495.5,302.4 499.5,300.9 502.5,299.5 506.5,296.8 510.5,294.4 514.5,291.6 518.5,289.1 522.5,287.0 526.5,284.7 530.5,282.6 534.5,280.5 538.5,278.6 542.5,276.8 546.5,274.5 550.5,272.4 554.5,270.1 558.5,267.3 562.5,264.2 566.5,262.2 570.5,260.1 574.5,257.9 578.5,255.6 582.5,253.6 586.5,251.9 590.5,250.6 594.5,249.8 598.5,248.8 602.5,247.7 606.5,246.5 610.5,245.6 614.5,244.8 617.5,244.7 621.5,244.0 625.5,243.0 629.5,242.1 633.5,240.3 637.5,238.5 641.5,237.3 645.5,236.6 649.5,235.9 653.5,235.3 657.5,234.7 661.5,233.9 665.5,233.6 669.5,233.2 673.5,232.9 677.5,232.9 681.5,233.1 685.5,233.6 689.5,233.1 693.5,232.5 697.5,231.7 701.5,231.0 705.5,230.3 709.5,229.5 713.5,228.6 717.5,228.0 721.5,227.7 725.5,226.6 728.5,225.6 732.5,224.9 736.5,224.2 740.5,223.4 744.5,222.7 748.5,222.0 752.5,220.8 756.5,218.7 760.5,216.4 764.5,214.2 768.5,211.8 772.5,209.3 776.5,207.3 780.5,205.2 784.5,203.1 788.5,201.3 792.5,199.7 796.5,198.2 800.5,196.7 804.5,194.7 808.5,193.1 812.5,191.7 816.5,190.4 820.5,189.1 824.5,187.6 828.5,186.4 832.5,185.3 836.5,184.2 840.5,183.7 843.5,183.6 847.5,183.7 851.5,183.4 855.5,183.0 859.5,182.8 863.5,182.4 867.5,181.5 871.5,180.8 875.5,180.2 879.5,179.1 883.5,178.2 887.5,176.9 891.5,175.0 895.5,174.3 899.5,173.8 903.5,173.3 907.5,172.8 911.5,172.5 915.5,173.0 919.5,173.1 923.5,173.6 927.5,173.2 931.5,173.1 935.5,173.4 939.5,174.3 943.5,174.9 947.5,175.5 951.5,175.9 955.5,177.1 958.5,178.2 962.5,179.3 966.5,180.2 970.5,180.6 974.5,181.0 978.5,181.5 982.5,182.0 986.5,182.6 990.5,183.0 994.5,183.2 998.5,183.4 1002.5,183.2 1006.5,182.7 1010.5,182.1 1014.5,181.5 1018.5,181.2 1022.5,180.8 1026.5,180.0 1030.5,179.5 1034.5,178.8 1038.5,178.5 1042.5,178.2 1046.5,177.9 1050.5,178.2 1054.5,178.6 1058.5,178.7 1062.5,179.7 1066.5,180.5 1069.5,181.3 1073.5,181.5 1077.5,181.3 1081.5,181.2 1085.5,180.1 1089.5,178.7 1093.5,177.0 1097.5,175.4 1101.5,173.6 1105.5,171.6 1109.5,170.4 1113.5,168.8 1117.5,167.7 1121.5,168.3 1125.5,169.4 1129.5,169.5 1133.5,169.6 1137.5,170.1 1141.5,171.1 1145.5,172.5 1149.5,174.2 1153.5,175.7 1157.5,176.9 1161.5,177.6 1165.5,178.7 1169.5,180.0 1173.5,180.8"/>
<line x1="740" y1="96.5" x2="1704" y2="96.5" stroke="#2962ff" stroke-width="1" stroke-dasharray="1 2"/>
<line x1="13" y1="147" x2="1704" y2="147" stroke="#2962ff" stroke-width="2" stroke-dasharray="2 4"/>
<line x1="1106" y1="116" x2="1704" y2="116" stroke="#4caf50" stroke-width="2" stroke-dasharray="2 4"/>
<line x1="13" y1="200.5" x2="1704" y2="200.5" stroke="#089981" stroke-width="1" stroke-dasharray="1 2"/>
<line x1="1121" y1="238" x2="1704" y2="238" stroke="#9c27b0" stroke-width="2"/>
<line x1="13" y1="325" x2="1704" y2="325" stroke="#f23645" stroke-width="2" stroke-dasharray="10 12"/>
<line x1="13" y1="382" x2="1704" y2="382" stroke="#9c27b0" stroke-width="2" stroke-dasharray="2 4"/>
<line x1="383" y1="116.5" x2="1190" y2="116.5" stroke="#000" stroke-width="1"/>
<line x1="383" y1="172.5" x2="1190" y2="172.5" stroke="#000" stroke-width="1"/>
<line x1="383" y1="216.5" x2="1190" y2="216.5" stroke="#000" stroke-width="1"/>
<line x1="383" y1="247.5" x2="1190" y2="247.5" stroke="#000" stroke-width="1"/>
<line x1="383" y1="378.5" x2="1190" y2="378.5" stroke="#000" stroke-width="1"/>
<line x1="494" y1="281.4" x2="1196.6" y2="187.4" stroke="#000" stroke-width="2"/>
<rect x="13" y="468.4" width="1691" height="84.0" fill="#7e57c2" fill-opacity="0.1"/>
<line x1="13" y1="468.5" x2="1704" y2="468.5" stroke="#787b86" stroke-width="1" stroke-dasharray="5 6" stroke-opacity="0.95"/>
<line x1="13" y1="510.5" x2="1704" y2="510.5" stroke="#787b86" stroke-width="1" stroke-dasharray="5 6" stroke-opacity="0.55"/>
<line x1="13" y1="552.5" x2="1704" y2="552.5" stroke="#787b86" stroke-width="1" stroke-dasharray="5 6" stroke-opacity="0.95"/>
<defs><linearGradient id="gob" x1="0" y1="405.4" x2="0" y2="468.4" gradientUnits="userSpaceOnUse"><stop offset="0" stop-color="#4caf50" stop-opacity="0.35"/><stop offset="1" stop-color="#4caf50" stop-opacity="0"/></linearGradient><linearGradient id="gos" x1="0" y1="552.4" x2="0" y2="615.4" gradientUnits="userSpaceOnUse"><stop offset="0" stop-color="#f23645" stop-opacity="0"/><stop offset="1" stop-color="#f23645" stop-opacity="0.35"/></linearGradient><clipPath id="cob"><rect x="0" y="0" width="1814" height="468.4"/></clipPath><clipPath id="cos"><rect x="0" y="552.4" width="1814" height="100"/></clipPath></defs>
<polygon clip-path="url(#cob)" fill="url(#gob)" points="11.5,468.4 11.5,506.8 15.5,500.9 19.5,500.4 23.5,484.8 27.5,509.9 31.5,517.5 35.5,525.3 39.5,516.2 43.5,517.7 47.5,517.3 50.5,517.3 54.5,507.3 58.5,491.6 62.5,495.4 66.5,481.6 70.5,479.7 74.5,496.8 78.5,493.0 82.5,481.2 86.5,493.7 90.5,492.3 94.5,489.3 98.5,490.6 102.5,500.3 106.5,503.3 110.5,507.2 114.5,496.4 118.5,492.8 122.5,504.5 126.5,513.1 130.5,524.7 134.5,508.5 138.5,522.0 142.5,526.3 146.5,525.7 150.5,525.7 154.5,525.7 158.5,524.4 162.5,520.7 165.5,528.5 169.5,514.5 173.5,522.1 177.5,515.9 181.5,515.7 185.5,523.4 189.5,525.2 193.5,525.5 197.5,519.4 201.5,507.7 205.5,520.7 209.5,517.9 213.5,519.6 217.5,541.7 221.5,551.8 225.5,562.9 229.5,559.6 233.5,560.8 237.5,548.4 241.5,508.1 245.5,532.7 249.5,528.5 253.5,516.4 257.5,519.0 261.5,527.7 265.5,529.4 269.5,542.9 273.5,547.4 276.5,530.4 280.5,527.7 284.5,534.3 288.5,523.7 292.5,522.4 296.5,527.6 300.5,522.0 304.5,525.6 308.5,509.9 312.5,519.0 316.5,519.3 320.5,520.3 324.5,510.8 328.5,505.8 332.5,506.8 336.5,508.9 340.5,506.8 344.5,519.2 348.5,525.9 352.5,527.3 356.5,525.2 360.5,512.4 364.5,523.9 368.5,520.2 372.5,516.3 376.5,519.0 380.5,538.5 384.5,533.3 388.5,543.1 391.5,513.9 395.5,524.2 399.5,509.9 403.5,503.5 407.5,509.6 411.5,506.4 415.5,509.9 419.5,507.8 423.5,504.6 427.5,507.1 431.5,504.3 435.5,503.9 439.5,494.1 443.5,475.0 447.5,474.0 451.5,473.3 455.5,471.6 459.5,472.6 463.5,477.7 467.5,473.1 471.5,480.2 475.5,479.9 479.5,470.8 483.5,469.3 487.5,478.0 491.5,490.6 495.5,487.5 499.5,478.5 502.5,477.9 506.5,458.1 510.5,460.0 514.5,455.3 518.5,462.3 522.5,471.1 526.5,467.0 530.5,472.0 534.5,470.3 538.5,475.1 542.5,478.1 546.5,465.2 550.5,472.0 554.5,467.2 558.5,459.1 562.5,453.4 566.5,483.8 570.5,482.0 574.5,478.0 578.5,476.1 582.5,480.4 586.5,488.3 590.5,501.5 594.5,510.4 598.5,506.1 602.5,501.0 606.5,500.1 610.5,503.8 614.5,509.0 617.5,526.7 621.5,509.5 625.5,502.3 629.5,501.4 633.5,482.5 637.5,482.5 641.5,494.7 645.5,509.8 649.5,507.2 653.5,511.0 657.5,508.9 661.5,503.4 665.5,515.4 669.5,513.6 673.5,515.4 677.5,523.3 681.5,529.0 685.5,536.0 689.5,506.3 693.5,503.5 697.5,497.3 701.5,500.3 705.5,499.5 709.5,497.7 713.5,492.4 717.5,502.4 721.5,511.9 725.5,491.1 728.5,490.8 732.5,501.7 736.5,499.8 740.5,494.9 744.5,502.4 748.5,497.3 752.5,486.6 756.5,468.2 760.5,464.4 764.5,465.6 768.5,460.4 772.5,458.2 776.5,474.0 780.5,471.1 784.5,468.9 788.5,480.8 792.5,481.3 796.5,485.1 800.5,483.6 804.5,472.2 808.5,483.0 812.5,486.3 816.5,491.8 820.5,490.1 824.5,481.8 828.5,494.6 832.5,494.6 836.5,494.6 840.5,512.4 843.5,528.5 847.5,530.1 851.5,517.1 855.5,513.0 859.5,519.2 863.5,512.6 867.5,496.3 871.5,502.9 875.5,504.7 879.5,488.7 883.5,494.2 887.5,485.4 891.5,471.9 895.5,504.8 899.5,509.5 903.5,507.4 907.5,507.8 911.5,515.1 915.5,529.6 919.5,520.6 923.5,529.9 927.5,507.5 931.5,514.1 935.5,521.4 939.5,533.0 943.5,525.4 947.5,526.7 951.5,520.6 955.5,535.5 958.5,533.0 962.5,535.3 966.5,529.3 970.5,518.3 974.5,516.1 978.5,521.3 982.5,521.8 986.5,523.8 990.5,517.5 994.5,511.4 998.5,515.2 1002.5,501.7 1006.5,494.5 1010.5,491.4 1014.5,492.8 1018.5,498.1 1022.5,497.0 1026.5,488.3 1030.5,493.5 1034.5,489.3 1038.5,502.8 1042.5,500.1 1046.5,504.3 1050.5,521.8 1054.5,526.1 1058.5,515.2 1062.5,537.8 1066.5,532.7 1069.5,533.2 1073.5,514.9 1077.5,503.4 1081.5,505.1 1085.5,484.6 1089.5,477.6 1093.5,472.6 1097.5,471.8 1101.5,468.2 1105.5,464.8 1109.5,487.4 1113.5,480.1 1117.5,491.4 1121.5,527.5 1125.5,534.0 1129.5,513.9 1133.5,515.5 1137.5,522.2 1141.5,529.8 1145.5,536.0 1149.5,540.1 1153.5,536.7 1157.5,530.2 1161.5,521.8 1165.5,529.1 1169.5,531.8 1173.5,522.5 1173.5,468.4"/>
<polygon clip-path="url(#cos)" fill="url(#gos)" points="11.5,552.4 11.5,506.8 15.5,500.9 19.5,500.4 23.5,484.8 27.5,509.9 31.5,517.5 35.5,525.3 39.5,516.2 43.5,517.7 47.5,517.3 50.5,517.3 54.5,507.3 58.5,491.6 62.5,495.4 66.5,481.6 70.5,479.7 74.5,496.8 78.5,493.0 82.5,481.2 86.5,493.7 90.5,492.3 94.5,489.3 98.5,490.6 102.5,500.3 106.5,503.3 110.5,507.2 114.5,496.4 118.5,492.8 122.5,504.5 126.5,513.1 130.5,524.7 134.5,508.5 138.5,522.0 142.5,526.3 146.5,525.7 150.5,525.7 154.5,525.7 158.5,524.4 162.5,520.7 165.5,528.5 169.5,514.5 173.5,522.1 177.5,515.9 181.5,515.7 185.5,523.4 189.5,525.2 193.5,525.5 197.5,519.4 201.5,507.7 205.5,520.7 209.5,517.9 213.5,519.6 217.5,541.7 221.5,551.8 225.5,562.9 229.5,559.6 233.5,560.8 237.5,548.4 241.5,508.1 245.5,532.7 249.5,528.5 253.5,516.4 257.5,519.0 261.5,527.7 265.5,529.4 269.5,542.9 273.5,547.4 276.5,530.4 280.5,527.7 284.5,534.3 288.5,523.7 292.5,522.4 296.5,527.6 300.5,522.0 304.5,525.6 308.5,509.9 312.5,519.0 316.5,519.3 320.5,520.3 324.5,510.8 328.5,505.8 332.5,506.8 336.5,508.9 340.5,506.8 344.5,519.2 348.5,525.9 352.5,527.3 356.5,525.2 360.5,512.4 364.5,523.9 368.5,520.2 372.5,516.3 376.5,519.0 380.5,538.5 384.5,533.3 388.5,543.1 391.5,513.9 395.5,524.2 399.5,509.9 403.5,503.5 407.5,509.6 411.5,506.4 415.5,509.9 419.5,507.8 423.5,504.6 427.5,507.1 431.5,504.3 435.5,503.9 439.5,494.1 443.5,475.0 447.5,474.0 451.5,473.3 455.5,471.6 459.5,472.6 463.5,477.7 467.5,473.1 471.5,480.2 475.5,479.9 479.5,470.8 483.5,469.3 487.5,478.0 491.5,490.6 495.5,487.5 499.5,478.5 502.5,477.9 506.5,458.1 510.5,460.0 514.5,455.3 518.5,462.3 522.5,471.1 526.5,467.0 530.5,472.0 534.5,470.3 538.5,475.1 542.5,478.1 546.5,465.2 550.5,472.0 554.5,467.2 558.5,459.1 562.5,453.4 566.5,483.8 570.5,482.0 574.5,478.0 578.5,476.1 582.5,480.4 586.5,488.3 590.5,501.5 594.5,510.4 598.5,506.1 602.5,501.0 606.5,500.1 610.5,503.8 614.5,509.0 617.5,526.7 621.5,509.5 625.5,502.3 629.5,501.4 633.5,482.5 637.5,482.5 641.5,494.7 645.5,509.8 649.5,507.2 653.5,511.0 657.5,508.9 661.5,503.4 665.5,515.4 669.5,513.6 673.5,515.4 677.5,523.3 681.5,529.0 685.5,536.0 689.5,506.3 693.5,503.5 697.5,497.3 701.5,500.3 705.5,499.5 709.5,497.7 713.5,492.4 717.5,502.4 721.5,511.9 725.5,491.1 728.5,490.8 732.5,501.7 736.5,499.8 740.5,494.9 744.5,502.4 748.5,497.3 752.5,486.6 756.5,468.2 760.5,464.4 764.5,465.6 768.5,460.4 772.5,458.2 776.5,474.0 780.5,471.1 784.5,468.9 788.5,480.8 792.5,481.3 796.5,485.1 800.5,483.6 804.5,472.2 808.5,483.0 812.5,486.3 816.5,491.8 820.5,490.1 824.5,481.8 828.5,494.6 832.5,494.6 836.5,494.6 840.5,512.4 843.5,528.5 847.5,530.1 851.5,517.1 855.5,513.0 859.5,519.2 863.5,512.6 867.5,496.3 871.5,502.9 875.5,504.7 879.5,488.7 883.5,494.2 887.5,485.4 891.5,471.9 895.5,504.8 899.5,509.5 903.5,507.4 907.5,507.8 911.5,515.1 915.5,529.6 919.5,520.6 923.5,529.9 927.5,507.5 931.5,514.1 935.5,521.4 939.5,533.0 943.5,525.4 947.5,526.7 951.5,520.6 955.5,535.5 958.5,533.0 962.5,535.3 966.5,529.3 970.5,518.3 974.5,516.1 978.5,521.3 982.5,521.8 986.5,523.8 990.5,517.5 994.5,511.4 998.5,515.2 1002.5,501.7 1006.5,494.5 1010.5,491.4 1014.5,492.8 1018.5,498.1 1022.5,497.0 1026.5,488.3 1030.5,493.5 1034.5,489.3 1038.5,502.8 1042.5,500.1 1046.5,504.3 1050.5,521.8 1054.5,526.1 1058.5,515.2 1062.5,537.8 1066.5,532.7 1069.5,533.2 1073.5,514.9 1077.5,503.4 1081.5,505.1 1085.5,484.6 1089.5,477.6 1093.5,472.6 1097.5,471.8 1101.5,468.2 1105.5,464.8 1109.5,487.4 1113.5,480.1 1117.5,491.4 1121.5,527.5 1125.5,534.0 1129.5,513.9 1133.5,515.5 1137.5,522.2 1141.5,529.8 1145.5,536.0 1149.5,540.1 1153.5,536.7 1157.5,530.2 1161.5,521.8 1165.5,529.1 1169.5,531.8 1173.5,522.5 1173.5,552.4"/>
<polyline fill="none" stroke="#fdd835" stroke-width="1.3" points="11.5,516.0 15.5,515.3 19.5,514.5 23.5,512.0 27.5,511.2 31.5,512.2 35.5,513.8 39.5,513.8 43.5,513.5 47.5,513.4 50.5,513.0 54.5,511.6 58.5,509.4 62.5,507.7 66.5,505.9 70.5,504.4 74.5,504.2 78.5,504.8 82.5,502.7 86.5,501.0 90.5,498.6 94.5,496.7 98.5,494.8 102.5,493.6 106.5,492.6 110.5,492.6 114.5,492.9 118.5,492.7 122.5,494.4 126.5,496.8 130.5,498.7 134.5,499.9 138.5,502.8 142.5,505.1 146.5,507.5 150.5,510.1 154.5,512.6 158.5,514.3 162.5,515.5 165.5,517.1 169.5,518.4 173.5,520.4 177.5,521.3 181.5,521.4 185.5,521.4 189.5,522.5 193.5,522.8 197.5,522.3 201.5,521.0 205.5,520.7 209.5,520.1 213.5,519.8 217.5,521.3 221.5,522.9 225.5,526.4 229.5,529.1 233.5,532.3 237.5,534.6 241.5,533.5 245.5,534.0 249.5,534.3 253.5,534.0 257.5,534.9 261.5,535.4 265.5,536.2 269.5,537.8 273.5,538.2 276.5,536.7 280.5,534.2 284.5,532.4 288.5,529.7 292.5,527.9 296.5,529.3 300.5,528.5 304.5,528.3 308.5,527.8 312.5,527.8 316.5,527.3 320.5,526.6 324.5,524.3 328.5,521.3 332.5,519.7 336.5,518.3 340.5,516.4 344.5,516.0 348.5,516.3 352.5,516.3 356.5,516.5 360.5,515.5 364.5,516.5 368.5,516.6 372.5,516.4 376.5,516.3 380.5,518.3 384.5,520.3 388.5,522.9 391.5,523.2 395.5,524.5 399.5,523.8 403.5,522.2 407.5,520.9 411.5,519.6 415.5,519.4 419.5,518.3 423.5,517.2 427.5,516.5 431.5,515.4 435.5,513.0 439.5,510.2 443.5,505.3 447.5,502.4 451.5,498.8 455.5,496.1 459.5,493.9 463.5,491.6 467.5,489.2 471.5,487.1 475.5,485.1 479.5,482.7 483.5,480.0 487.5,478.1 491.5,477.2 495.5,476.7 499.5,476.9 502.5,477.2 506.5,476.1 510.5,475.3 514.5,474.1 518.5,473.0 522.5,472.8 526.5,471.9 530.5,471.3 534.5,471.3 538.5,471.7 542.5,471.7 546.5,469.9 550.5,468.8 554.5,468.0 558.5,466.6 562.5,466.3 566.5,468.0 570.5,469.9 574.5,471.0 578.5,471.4 582.5,472.3 586.5,473.5 590.5,475.7 594.5,478.3 598.5,480.3 602.5,482.8 606.5,484.8 610.5,487.4 614.5,491.0 617.5,496.2 621.5,498.1 625.5,499.5 629.5,501.2 633.5,501.6 637.5,501.8 641.5,502.3 645.5,502.8 649.5,502.6 653.5,503.0 657.5,503.5 661.5,503.8 665.5,504.6 669.5,504.9 673.5,504.1 677.5,505.1 681.5,507.0 685.5,509.5 689.5,511.2 693.5,512.7 697.5,512.9 701.5,512.2 705.5,511.7 709.5,510.7 713.5,509.5 717.5,509.4 721.5,509.2 725.5,507.6 728.5,505.8 732.5,504.3 736.5,502.2 740.5,499.3 744.5,499.0 748.5,498.5 752.5,497.8 756.5,495.5 760.5,493.0 764.5,490.7 768.5,488.4 772.5,485.2 776.5,482.5 780.5,481.1 784.5,479.5 788.5,478.0 792.5,476.7 796.5,476.0 800.5,474.7 804.5,472.9 808.5,472.6 812.5,473.9 816.5,475.9 820.5,477.6 824.5,479.2 828.5,481.8 832.5,483.2 836.5,484.9 840.5,488.0 843.5,491.4 847.5,494.9 851.5,497.2 855.5,499.3 859.5,502.7 863.5,504.8 867.5,505.5 871.5,506.3 875.5,507.3 879.5,507.8 883.5,507.8 887.5,507.1 891.5,505.5 895.5,505.0 899.5,503.6 903.5,502.0 907.5,501.3 911.5,501.5 915.5,502.2 919.5,502.8 923.5,505.2 927.5,505.5 931.5,506.2 935.5,508.5 939.5,511.3 943.5,514.1 947.5,518.1 951.5,519.2 955.5,521.0 958.5,522.9 962.5,524.8 966.5,525.9 970.5,525.0 974.5,524.7 978.5,524.1 982.5,525.1 986.5,525.8 990.5,525.5 994.5,524.0 998.5,523.3 1002.5,521.5 1006.5,519.6 1010.5,516.5 1014.5,513.6 1018.5,510.9 1022.5,508.6 1026.5,506.5 1030.5,504.9 1034.5,502.6 1038.5,501.2 1042.5,499.5 1046.5,498.6 1050.5,499.3 1054.5,500.1 1058.5,501.1 1062.5,504.2 1066.5,507.1 1069.5,510.0 1073.5,511.2 1077.5,511.7 1081.5,512.9 1085.5,512.2 1089.5,511.4 1093.5,509.3 1097.5,507.2 1101.5,504.7 1105.5,500.6 1109.5,497.8 1113.5,495.3 1117.5,492.0 1121.5,491.6 1125.5,491.7 1129.5,491.6 1133.5,492.5 1137.5,493.7 1141.5,496.9 1145.5,501.1 1149.5,505.9 1153.5,510.5 1157.5,515.0 1161.5,519.0 1165.5,522.0 1169.5,525.7 1173.5,527.9"/>
<polyline fill="none" stroke="#7e57c2" stroke-width="1.2" stroke-linejoin="round" points="11.5,506.8 15.5,500.9 19.5,500.4 23.5,484.8 27.5,509.9 31.5,517.5 35.5,525.3 39.5,516.2 43.5,517.7 47.5,517.3 50.5,517.3 54.5,507.3 58.5,491.6 62.5,495.4 66.5,481.6 70.5,479.7 74.5,496.8 78.5,493.0 82.5,481.2 86.5,493.7 90.5,492.3 94.5,489.3 98.5,490.6 102.5,500.3 106.5,503.3 110.5,507.2 114.5,496.4 118.5,492.8 122.5,504.5 126.5,513.1 130.5,524.7 134.5,508.5 138.5,522.0 142.5,526.3 146.5,525.7 150.5,525.7 154.5,525.7 158.5,524.4 162.5,520.7 165.5,528.5 169.5,514.5 173.5,522.1 177.5,515.9 181.5,515.7 185.5,523.4 189.5,525.2 193.5,525.5 197.5,519.4 201.5,507.7 205.5,520.7 209.5,517.9 213.5,519.6 217.5,541.7 221.5,551.8 225.5,562.9 229.5,559.6 233.5,560.8 237.5,548.4 241.5,508.1 245.5,532.7 249.5,528.5 253.5,516.4 257.5,519.0 261.5,527.7 265.5,529.4 269.5,542.9 273.5,547.4 276.5,530.4 280.5,527.7 284.5,534.3 288.5,523.7 292.5,522.4 296.5,527.6 300.5,522.0 304.5,525.6 308.5,509.9 312.5,519.0 316.5,519.3 320.5,520.3 324.5,510.8 328.5,505.8 332.5,506.8 336.5,508.9 340.5,506.8 344.5,519.2 348.5,525.9 352.5,527.3 356.5,525.2 360.5,512.4 364.5,523.9 368.5,520.2 372.5,516.3 376.5,519.0 380.5,538.5 384.5,533.3 388.5,543.1 391.5,513.9 395.5,524.2 399.5,509.9 403.5,503.5 407.5,509.6 411.5,506.4 415.5,509.9 419.5,507.8 423.5,504.6 427.5,507.1 431.5,504.3 435.5,503.9 439.5,494.1 443.5,475.0 447.5,474.0 451.5,473.3 455.5,471.6 459.5,472.6 463.5,477.7 467.5,473.1 471.5,480.2 475.5,479.9 479.5,470.8 483.5,469.3 487.5,478.0 491.5,490.6 495.5,487.5 499.5,478.5 502.5,477.9 506.5,458.1 510.5,460.0 514.5,455.3 518.5,462.3 522.5,471.1 526.5,467.0 530.5,472.0 534.5,470.3 538.5,475.1 542.5,478.1 546.5,465.2 550.5,472.0 554.5,467.2 558.5,459.1 562.5,453.4 566.5,483.8 570.5,482.0 574.5,478.0 578.5,476.1 582.5,480.4 586.5,488.3 590.5,501.5 594.5,510.4 598.5,506.1 602.5,501.0 606.5,500.1 610.5,503.8 614.5,509.0 617.5,526.7 621.5,509.5 625.5,502.3 629.5,501.4 633.5,482.5 637.5,482.5 641.5,494.7 645.5,509.8 649.5,507.2 653.5,511.0 657.5,508.9 661.5,503.4 665.5,515.4 669.5,513.6 673.5,515.4 677.5,523.3 681.5,529.0 685.5,536.0 689.5,506.3 693.5,503.5 697.5,497.3 701.5,500.3 705.5,499.5 709.5,497.7 713.5,492.4 717.5,502.4 721.5,511.9 725.5,491.1 728.5,490.8 732.5,501.7 736.5,499.8 740.5,494.9 744.5,502.4 748.5,497.3 752.5,486.6 756.5,468.2 760.5,464.4 764.5,465.6 768.5,460.4 772.5,458.2 776.5,474.0 780.5,471.1 784.5,468.9 788.5,480.8 792.5,481.3 796.5,485.1 800.5,483.6 804.5,472.2 808.5,483.0 812.5,486.3 816.5,491.8 820.5,490.1 824.5,481.8 828.5,494.6 832.5,494.6 836.5,494.6 840.5,512.4 843.5,528.5 847.5,530.1 851.5,517.1 855.5,513.0 859.5,519.2 863.5,512.6 867.5,496.3 871.5,502.9 875.5,504.7 879.5,488.7 883.5,494.2 887.5,485.4 891.5,471.9 895.5,504.8 899.5,509.5 903.5,507.4 907.5,507.8 911.5,515.1 915.5,529.6 919.5,520.6 923.5,529.9 927.5,507.5 931.5,514.1 935.5,521.4 939.5,533.0 943.5,525.4 947.5,526.7 951.5,520.6 955.5,535.5 958.5,533.0 962.5,535.3 966.5,529.3 970.5,518.3 974.5,516.1 978.5,521.3 982.5,521.8 986.5,523.8 990.5,517.5 994.5,511.4 998.5,515.2 1002.5,501.7 1006.5,494.5 1010.5,491.4 1014.5,492.8 1018.5,498.1 1022.5,497.0 1026.5,488.3 1030.5,493.5 1034.5,489.3 1038.5,502.8 1042.5,500.1 1046.5,504.3 1050.5,521.8 1054.5,526.1 1058.5,515.2 1062.5,537.8 1066.5,532.7 1069.5,533.2 1073.5,514.9 1077.5,503.4 1081.5,505.1 1085.5,484.6 1089.5,477.6 1093.5,472.6 1097.5,471.8 1101.5,468.2 1105.5,464.8 1109.5,487.4 1113.5,480.1 1117.5,491.4 1121.5,527.5 1125.5,534.0 1129.5,513.9 1133.5,515.5 1137.5,522.2 1141.5,529.8 1145.5,536.0 1149.5,540.1 1153.5,536.7 1157.5,530.2 1161.5,521.8 1165.5,529.1 1169.5,531.8 1173.5,522.5"/>
<g shape-rendering="crispEdges"><rect x="14" y="639" width="2" height="7" fill="#92d2cc"/><rect x="18" y="639" width="2" height="7" fill="#92d2cc"/><rect x="22" y="628" width="2" height="18" fill="#92d2cc"/><rect x="26" y="623" width="2" height="23" fill="#f7a9a8"/><rect x="30" y="622" width="2" height="24" fill="#f7a9a8"/><rect x="34" y="622" width="2" height="24" fill="#f7a9a8"/><rect x="38" y="624" width="2" height="22" fill="#92d2cc"/><rect x="42" y="640" width="2" height="6" fill="#f7a9a8"/><rect x="46" y="639" width="2" height="7" fill="#f7a9a8"/><rect x="50" y="616" width="2" height="30" fill="#f7a9a8"/><rect x="54" y="626" width="2" height="20" fill="#92d2cc"/><rect x="58" y="624" width="2" height="22" fill="#92d2cc"/><rect x="62" y="626" width="2" height="20" fill="#f7a9a8"/><rect x="66" y="619" width="2" height="27" fill="#92d2cc"/><rect x="70" y="628" width="2" height="18" fill="#92d2cc"/><rect x="74" y="616" width="2" height="30" fill="#f7a9a8"/><rect x="78" y="585" width="2" height="61" fill="#92d2cc"/><rect x="82" y="614" width="2" height="32" fill="#92d2cc"/><rect x="86" y="630" width="2" height="16" fill="#f7a9a8"/><rect x="90" y="609" width="2" height="37" fill="#92d2cc"/><rect x="94" y="629" width="2" height="17" fill="#92d2cc"/><rect x="98" y="639" width="2" height="7" fill="#f7a9a8"/><rect x="102" y="638" width="2" height="8" fill="#f7a9a8"/><rect x="105" y="611" width="2" height="35" fill="#f7a9a8"/><rect x="109" y="630" width="2" height="16" fill="#f7a9a8"/><rect x="113" y="629" width="2" height="17" fill="#92d2cc"/><rect x="117" y="632" width="2" height="14" fill="#92d2cc"/><rect x="121" y="630" width="2" height="16" fill="#f7a9a8"/><rect x="125" y="637" width="2" height="9" fill="#f7a9a8"/><rect x="129" y="622" width="2" height="24" fill="#f7a9a8"/><rect x="133" y="594" width="2" height="52" fill="#92d2cc"/><rect x="137" y="618" width="2" height="28" fill="#f7a9a8"/><rect x="141" y="627" width="2" height="19" fill="#f7a9a8"/><rect x="145" y="629" width="2" height="17" fill="#f7a9a8"/><rect x="149" y="623" width="2" height="23" fill="#f7a9a8"/><rect x="153" y="638" width="2" height="8" fill="#f7a9a8"/><rect x="157" y="635" width="2" height="11" fill="#92d2cc"/><rect x="161" y="631" width="2" height="15" fill="#92d2cc"/><rect x="165" y="632" width="2" height="14" fill="#f7a9a8"/><rect x="169" y="625" width="2" height="21" fill="#92d2cc"/><rect x="173" y="631" width="2" height="15" fill="#f7a9a8"/><rect x="177" y="633" width="2" height="13" fill="#92d2cc"/><rect x="181" y="640" width="2" height="6" fill="#92d2cc"/><rect x="185" y="639" width="2" height="7" fill="#f7a9a8"/><rect x="189" y="634" width="2" height="12" fill="#f7a9a8"/><rect x="193" y="629" width="2" height="17" fill="#f7a9a8"/><rect x="197" y="634" width="2" height="12" fill="#92d2cc"/><rect x="201" y="633" width="2" height="13" fill="#92d2cc"/><rect x="205" y="623" width="2" height="23" fill="#f7a9a8"/><rect x="209" y="637" width="2" height="9" fill="#92d2cc"/><rect x="213" y="637" width="2" height="9" fill="#f7a9a8"/><rect x="217" y="624" width="2" height="22" fill="#f7a9a8"/><rect x="220" y="592" width="2" height="54" fill="#f7a9a8"/><rect x="224" y="607" width="2" height="39" fill="#f7a9a8"/><rect x="228" y="616" width="2" height="30" fill="#92d2cc"/><rect x="232" y="589" width="2" height="57" fill="#f7a9a8"/><rect x="236" y="627" width="2" height="19" fill="#92d2cc"/><rect x="240" y="608" width="2" height="38" fill="#92d2cc"/><rect x="244" y="605" width="2" height="41" fill="#f7a9a8"/><rect x="248" y="608" width="2" height="38" fill="#92d2cc"/><rect x="252" y="619" width="2" height="27" fill="#92d2cc"/><rect x="256" y="622" width="2" height="24" fill="#f7a9a8"/><rect x="260" y="606" width="2" height="40" fill="#f7a9a8"/><rect x="264" y="636" width="2" height="10" fill="#f7a9a8"/><rect x="268" y="627" width="2" height="19" fill="#f7a9a8"/><rect x="272" y="613" width="2" height="33" fill="#f7a9a8"/><rect x="276" y="612" width="2" height="34" fill="#92d2cc"/><rect x="280" y="623" width="2" height="23" fill="#92d2cc"/><rect x="284" y="626" width="2" height="20" fill="#f7a9a8"/><rect x="288" y="627" width="2" height="19" fill="#92d2cc"/><rect x="292" y="637" width="2" height="9" fill="#92d2cc"/><rect x="296" y="633" width="2" height="13" fill="#f7a9a8"/><rect x="300" y="633" width="2" height="13" fill="#92d2cc"/><rect x="304" y="633" width="2" height="13" fill="#f7a9a8"/><rect x="308" y="626" width="2" height="20" fill="#92d2cc"/><rect x="312" y="630" width="2" height="16" fill="#f7a9a8"/><rect x="316" y="637" width="2" height="9" fill="#f7a9a8"/><rect x="320" y="641" width="2" height="5" fill="#f7a9a8"/><rect x="324" y="639" width="2" height="7" fill="#92d2cc"/><rect x="328" y="625" width="2" height="21" fill="#92d2cc"/><rect x="331" y="630" width="2" height="16" fill="#f7a9a8"/><rect x="335" y="632" width="2" height="14" fill="#f7a9a8"/><rect x="339" y="633" width="2" height="13" fill="#92d2cc"/><rect x="343" y="627" width="2" height="19" fill="#f7a9a8"/><rect x="347" y="637" width="2" height="9" fill="#f7a9a8"/><rect x="351" y="638" width="2" height="8" fill="#f7a9a8"/><rect x="355" y="631" width="2" height="15" fill="#92d2cc"/><rect x="359" y="631" width="2" height="15" fill="#92d2cc"/><rect x="363" y="618" width="2" height="28" fill="#f7a9a8"/><rect x="367" y="626" width="2" height="20" fill="#92d2cc"/><rect x="371" y="623" width="2" height="23" fill="#92d2cc"/><rect x="375" y="638" width="2" height="8" fill="#f7a9a8"/><rect x="379" y="626" width="2" height="20" fill="#f7a9a8"/><rect x="383" y="592" width="2" height="54" fill="#92d2cc"/><rect x="387" y="621" width="2" height="25" fill="#f7a9a8"/><rect x="391" y="594" width="2" height="52" fill="#92d2cc"/><rect x="395" y="622" width="2" height="24" fill="#f7a9a8"/><rect x="399" y="622" width="2" height="24" fill="#92d2cc"/><rect x="403" y="632" width="2" height="14" fill="#92d2cc"/><rect x="407" y="628" width="2" height="18" fill="#f7a9a8"/><rect x="411" y="626" width="2" height="20" fill="#92d2cc"/><rect x="415" y="631" width="2" height="15" fill="#f7a9a8"/><rect x="419" y="631" width="2" height="15" fill="#92d2cc"/><rect x="423" y="636" width="2" height="10" fill="#92d2cc"/><rect x="427" y="640" width="2" height="6" fill="#f7a9a8"/><rect x="431" y="638" width="2" height="8" fill="#92d2cc"/><rect x="435" y="639" width="2" height="7" fill="#92d2cc"/><rect x="439" y="623" width="2" height="23" fill="#92d2cc"/><rect x="443" y="615" width="2" height="31" fill="#92d2cc"/><rect x="446" y="626" width="2" height="20" fill="#92d2cc"/><rect x="450" y="632" width="2" height="14" fill="#92d2cc"/><rect x="454" y="626" width="2" height="20" fill="#92d2cc"/><rect x="458" y="638" width="2" height="8" fill="#f7a9a8"/><rect x="462" y="637" width="2" height="9" fill="#f7a9a8"/><rect x="466" y="630" width="2" height="16" fill="#92d2cc"/><rect x="470" y="633" width="2" height="13" fill="#f7a9a8"/><rect x="474" y="633" width="2" height="13" fill="#f7a9a8"/><rect x="478" y="630" width="2" height="16" fill="#92d2cc"/><rect x="482" y="635" width="2" height="11" fill="#92d2cc"/><rect x="486" y="638" width="2" height="8" fill="#f7a9a8"/><rect x="490" y="637" width="2" height="9" fill="#f7a9a8"/><rect x="494" y="633" width="2" height="13" fill="#92d2cc"/><rect x="498" y="634" width="2" height="12" fill="#92d2cc"/><rect x="502" y="634" width="2" height="12" fill="#92d2cc"/><rect x="506" y="621" width="2" height="25" fill="#92d2cc"/><rect x="510" y="626" width="2" height="20" fill="#f7a9a8"/><rect x="514" y="634" width="2" height="12" fill="#92d2cc"/><rect x="518" y="633" width="2" height="13" fill="#f7a9a8"/><rect x="522" y="624" width="2" height="22" fill="#f7a9a8"/><rect x="526" y="631" width="2" height="15" fill="#92d2cc"/><rect x="530" y="634" width="2" height="12" fill="#f7a9a8"/><rect x="534" y="633" width="2" height="13" fill="#92d2cc"/><rect x="538" y="634" width="2" height="12" fill="#f7a9a8"/><rect x="542" y="637" width="2" height="9" fill="#f7a9a8"/><rect x="546" y="630" width="2" height="16" fill="#92d2cc"/><rect x="550" y="624" width="2" height="22" fill="#f7a9a8"/><rect x="554" y="629" width="2" height="17" fill="#92d2cc"/><rect x="558" y="614" width="2" height="32" fill="#92d2cc"/><rect x="561" y="624" width="2" height="22" fill="#92d2cc"/><rect x="565" y="623" width="2" height="23" fill="#f7a9a8"/><rect x="569" y="634" width="2" height="12" fill="#92d2cc"/><rect x="573" y="633" width="2" height="13" fill="#92d2cc"/><rect x="577" y="635" width="2" height="11" fill="#92d2cc"/><rect x="581" y="631" width="2" height="15" fill="#f7a9a8"/><rect x="585" y="634" width="2" height="12" fill="#f7a9a8"/><rect x="589" y="631" width="2" height="15" fill="#f7a9a8"/><rect x="593" y="629" width="2" height="17" fill="#f7a9a8"/><rect x="597" y="637" width="2" height="9" fill="#92d2cc"/><rect x="601" y="638" width="2" height="8" fill="#92d2cc"/><rect x="605" y="636" width="2" height="10" fill="#92d2cc"/><rect x="609" y="636" width="2" height="10" fill="#f7a9a8"/><rect x="613" y="635" width="2" height="11" fill="#f7a9a8"/><rect x="617" y="630" width="2" height="16" fill="#f7a9a8"/><rect x="621" y="634" width="2" height="12" fill="#92d2cc"/><rect x="625" y="639" width="2" height="7" fill="#92d2cc"/><rect x="629" y="639" width="2" height="7" fill="#92d2cc"/><rect x="633" y="631" width="2" height="15" fill="#92d2cc"/><rect x="637" y="633" width="2" height="13" fill="#92d2cc"/><rect x="641" y="636" width="2" height="10" fill="#f7a9a8"/><rect x="645" y="633" width="2" height="13" fill="#f7a9a8"/><rect x="649" y="627" width="2" height="19" fill="#92d2cc"/><rect x="653" y="639" width="2" height="7" fill="#f7a9a8"/><rect x="657" y="640" width="2" height="6" fill="#92d2cc"/><rect x="661" y="635" width="2" height="11" fill="#92d2cc"/><rect x="665" y="633" width="2" height="13" fill="#f7a9a8"/><rect x="669" y="635" width="2" height="11" fill="#92d2cc"/><rect x="672" y="640" width="2" height="6" fill="#f7a9a8"/><rect x="676" y="634" width="2" height="12" fill="#f7a9a8"/><rect x="680" y="637" width="2" height="9" fill="#f7a9a8"/><rect x="684" y="626" width="2" height="20" fill="#f7a9a8"/><rect x="688" y="626" width="2" height="20" fill="#92d2cc"/><rect x="692" y="635" width="2" height="11" fill="#92d2cc"/><rect x="696" y="634" width="2" height="12" fill="#92d2cc"/><rect x="700" y="638" width="2" height="8" fill="#f7a9a8"/><rect x="704" y="637" width="2" height="9" fill="#92d2cc"/><rect x="708" y="643" width="2" height="3" fill="#92d2cc"/><rect x="712" y="640" width="2" height="6" fill="#92d2cc"/><rect x="716" y="638" width="2" height="8" fill="#f7a9a8"/><rect x="720" y="638" width="2" height="8" fill="#f7a9a8"/><rect x="724" y="633" width="2" height="13" fill="#92d2cc"/><rect x="728" y="636" width="2" height="10" fill="#92d2cc"/><rect x="732" y="637" width="2" height="9" fill="#f7a9a8"/><rect x="736" y="642" width="2" height="4" fill="#92d2cc"/><rect x="740" y="640" width="2" height="6" fill="#92d2cc"/><rect x="744" y="638" width="2" height="8" fill="#f7a9a8"/><rect x="748" y="639" width="2" height="7" fill="#92d2cc"/><rect x="752" y="633" width="2" height="13" fill="#92d2cc"/><rect x="756" y="628" width="2" height="18" fill="#92d2cc"/><rect x="760" y="627" width="2" height="19" fill="#92d2cc"/><rect x="764" y="639" width="2" height="7" fill="#f7a9a8"/><rect x="768" y="638" width="2" height="8" fill="#92d2cc"/><rect x="772" y="626" width="2" height="20" fill="#92d2cc"/><rect x="776" y="623" width="2" height="23" fill="#f7a9a8"/><rect x="780" y="633" width="2" height="13" fill="#92d2cc"/><rect x="784" y="634" width="2" height="12" fill="#92d2cc"/><rect x="787" y="631" width="2" height="15" fill="#f7a9a8"/><rect x="791" y="640" width="2" height="6" fill="#f7a9a8"/><rect x="795" y="636" width="2" height="10" fill="#f7a9a8"/><rect x="799" y="633" width="2" height="13" fill="#92d2cc"/><rect x="803" y="631" width="2" height="15" fill="#92d2cc"/><rect x="807" y="635" width="2" height="11" fill="#f7a9a8"/><rect x="811" y="634" width="2" height="12" fill="#f7a9a8"/><rect x="815" y="619" width="2" height="27" fill="#f7a9a8"/><rect x="819" y="640" width="2" height="6" fill="#92d2cc"/><rect x="823" y="639" width="2" height="7" fill="#92d2cc"/><rect x="827" y="635" width="2" height="11" fill="#f7a9a8"/><rect x="831" y="635" width="2" height="11" fill="#f7a9a8"/><rect x="835" y="634" width="2" height="12" fill="#f7a9a8"/><rect x="839" y="633" width="2" height="13" fill="#f7a9a8"/><rect x="843" y="628" width="2" height="18" fill="#f7a9a8"/><rect x="847" y="637" width="2" height="9" fill="#f7a9a8"/><rect x="851" y="640" width="2" height="6" fill="#92d2cc"/><rect x="855" y="638" width="2" height="8" fill="#92d2cc"/><rect x="859" y="637" width="2" height="9" fill="#f7a9a8"/><rect x="863" y="638" width="2" height="8" fill="#92d2cc"/><rect x="867" y="636" width="2" height="10" fill="#92d2cc"/><rect x="871" y="638" width="2" height="8" fill="#f7a9a8"/><rect x="875" y="638" width="2" height="8" fill="#f7a9a8"/><rect x="879" y="635" width="2" height="11" fill="#92d2cc"/><rect x="883" y="627" width="2" height="19" fill="#f7a9a8"/><rect x="887" y="634" width="2" height="12" fill="#92d2cc"/><rect x="891" y="629" width="2" height="17" fill="#92d2cc"/><rect x="895" y="626" width="2" height="20" fill="#f7a9a8"/><rect x="898" y="636" width="2" height="10" fill="#f7a9a8"/><rect x="902" y="640" width="2" height="6" fill="#92d2cc"/><rect x="906" y="641" width="2" height="5" fill="#92d2cc"/><rect x="910" y="633" width="2" height="13" fill="#f7a9a8"/><rect x="914" y="633" width="2" height="13" fill="#f7a9a8"/><rect x="918" y="634" width="2" height="12" fill="#92d2cc"/><rect x="922" y="637" width="2" height="9" fill="#f7a9a8"/><rect x="926" y="629" width="2" height="17" fill="#92d2cc"/><rect x="930" y="637" width="2" height="9" fill="#f7a9a8"/><rect x="934" y="631" width="2" height="15" fill="#f7a9a8"/><rect x="938" y="628" width="2" height="18" fill="#f7a9a8"/><rect x="942" y="632" width="2" height="14" fill="#92d2cc"/><rect x="946" y="636" width="2" height="10" fill="#f7a9a8"/><rect x="950" y="637" width="2" height="9" fill="#92d2cc"/><rect x="954" y="630" width="2" height="16" fill="#f7a9a8"/><rect x="958" y="638" width="2" height="8" fill="#92d2cc"/><rect x="962" y="638" width="2" height="8" fill="#f7a9a8"/><rect x="966" y="634" width="2" height="12" fill="#92d2cc"/><rect x="970" y="632" width="2" height="14" fill="#92d2cc"/><rect x="974" y="637" width="2" height="9" fill="#92d2cc"/><rect x="978" y="637" width="2" height="9" fill="#f7a9a8"/><rect x="982" y="630" width="2" height="16" fill="#f7a9a8"/><rect x="986" y="641" width="2" height="5" fill="#f7a9a8"/><rect x="990" y="641" width="2" height="5" fill="#92d2cc"/><rect x="994" y="637" width="2" height="9" fill="#92d2cc"/><rect x="998" y="634" width="2" height="12" fill="#f7a9a8"/><rect x="1002" y="633" width="2" height="13" fill="#92d2cc"/><rect x="1006" y="636" width="2" height="10" fill="#92d2cc"/><rect x="1010" y="634" width="2" height="12" fill="#92d2cc"/><rect x="1013" y="639" width="2" height="7" fill="#f7a9a8"/><rect x="1017" y="640" width="2" height="6" fill="#f7a9a8"/><rect x="1021" y="636" width="2" height="10" fill="#92d2cc"/><rect x="1025" y="637" width="2" height="9" fill="#92d2cc"/><rect x="1029" y="634" width="2" height="12" fill="#f7a9a8"/><rect x="1033" y="637" width="2" height="9" fill="#92d2cc"/><rect x="1037" y="639" width="2" height="7" fill="#f7a9a8"/><rect x="1041" y="642" width="2" height="4" fill="#92d2cc"/><rect x="1045" y="642" width="2" height="4" fill="#f7a9a8"/><rect x="1049" y="631" width="2" height="15" fill="#f7a9a8"/><rect x="1053" y="637" width="2" height="9" fill="#f7a9a8"/><rect x="1057" y="636" width="2" height="10" fill="#92d2cc"/><rect x="1061" y="631" width="2" height="15" fill="#f7a9a8"/><rect x="1065" y="635" width="2" height="11" fill="#92d2cc"/><rect x="1069" y="641" width="2" height="5" fill="#f7a9a8"/><rect x="1073" y="640" width="2" height="6" fill="#92d2cc"/><rect x="1077" y="634" width="2" height="12" fill="#92d2cc"/><rect x="1081" y="635" width="2" height="11" fill="#f7a9a8"/><rect x="1085" y="631" width="2" height="15" fill="#92d2cc"/><rect x="1089" y="632" width="2" height="14" fill="#92d2cc"/><rect x="1093" y="629" width="2" height="17" fill="#92d2cc"/><rect x="1097" y="639" width="2" height="7" fill="#92d2cc"/><rect x="1101" y="630" width="2" height="16" fill="#92d2cc"/><rect x="1105" y="632" width="2" height="14" fill="#92d2cc"/><rect x="1109" y="630" width="2" height="16" fill="#f7a9a8"/><rect x="1113" y="633" width="2" height="13" fill="#92d2cc"/><rect x="1117" y="630" width="2" height="16" fill="#f7a9a8"/><rect x="1121" y="602" width="2" height="44" fill="#f7a9a8"/><rect x="1125" y="621" width="2" height="25" fill="#f7a9a8"/><rect x="1128" y="623" width="2" height="23" fill="#92d2cc"/><rect x="1132" y="630" width="2" height="16" fill="#92d2cc"/><rect x="1136" y="623" width="2" height="23" fill="#f7a9a8"/><rect x="1140" y="629" width="2" height="17" fill="#f7a9a8"/><rect x="1144" y="625" width="2" height="21" fill="#f7a9a8"/><rect x="1148" y="619" width="2" height="27" fill="#f7a9a8"/><rect x="1152" y="637" width="2" height="9" fill="#92d2cc"/><rect x="1156" y="634" width="2" height="12" fill="#92d2cc"/><rect x="1160" y="632" width="2" height="14" fill="#92d2cc"/><rect x="1164" y="620" width="2" height="26" fill="#f7a9a8"/><rect x="1168" y="626" width="2" height="20" fill="#f7a9a8"/><rect x="1172" y="641" width="2" height="5" fill="#92d2cc"/></g>
<g><rect x="14" y="707.5" width="2" height="3.4" fill="#ffcdd2"/><rect x="18" y="707.5" width="2" height="0.9" fill="#ffcdd2"/><rect x="22" y="703.9" width="2" height="3.6" fill="#26a69a"/><rect x="26" y="705.2" width="2" height="2.3" fill="#b2dfdb"/><rect x="30" y="707.5" width="2" height="0.5" fill="#ff5252"/><rect x="34" y="707.5" width="2" height="3.4" fill="#ff5252"/><rect x="38" y="707.5" width="2" height="3.6" fill="#ff5252"/><rect x="42" y="707.5" width="2" height="3.9" fill="#ff5252"/><rect x="46" y="707.5" width="2" height="3.8" fill="#ffcdd2"/><rect x="50" y="707.5" width="2" height="3.5" fill="#ffcdd2"/><rect x="54" y="707.5" width="2" height="1.6" fill="#ffcdd2"/><rect x="58" y="704.8" width="2" height="2.7" fill="#26a69a"/><rect x="62" y="702.8" width="2" height="4.7" fill="#26a69a"/><rect x="66" y="698.7" width="2" height="8.8" fill="#26a69a"/><rect x="70" y="696.1" width="2" height="11.4" fill="#26a69a"/><rect x="74" y="697.7" width="2" height="9.8" fill="#b2dfdb"/><rect x="78" y="698.5" width="2" height="9.0" fill="#b2dfdb"/><rect x="82" y="696.6" width="2" height="10.9" fill="#26a69a"/><rect x="86" y="698.2" width="2" height="9.3" fill="#b2dfdb"/><rect x="90" y="699.5" width="2" height="8.0" fill="#b2dfdb"/><rect x="94" y="700.1" width="2" height="7.4" fill="#b2dfdb"/><rect x="98" y="701.3" width="2" height="6.2" fill="#b2dfdb"/><rect x="102" y="704.0" width="2" height="3.5" fill="#b2dfdb"/><rect x="105" y="706.5" width="2" height="1.0" fill="#b2dfdb"/><rect x="109" y="707.5" width="2" height="1.4" fill="#ff5252"/><rect x="113" y="707.5" width="2" height="1.1" fill="#ffcdd2"/><rect x="117" y="707.5" width="2" height="0.5" fill="#ffcdd2"/><rect x="121" y="707.5" width="2" height="1.8" fill="#ff5252"/><rect x="125" y="707.5" width="2" height="4.1" fill="#ff5252"/><rect x="129" y="707.5" width="2" height="7.6" fill="#ff5252"/><rect x="133" y="707.5" width="2" height="6.8" fill="#ffcdd2"/><rect x="137" y="707.5" width="2" height="8.8" fill="#ff5252"/><rect x="141" y="707.5" width="2" height="10.6" fill="#ff5252"/><rect x="145" y="707.5" width="2" height="11.2" fill="#ff5252"/><rect x="149" y="707.5" width="2" height="11.1" fill="#ffcdd2"/><rect x="153" y="707.5" width="2" height="10.4" fill="#ffcdd2"/><rect x="157" y="707.5" width="2" height="9.3" fill="#ffcdd2"/><rect x="161" y="707.5" width="2" height="7.7" fill="#ffcdd2"/><rect x="165" y="707.5" width="2" height="7.4" fill="#ffcdd2"/><rect x="169" y="707.5" width="2" height="5.1" fill="#ffcdd2"/><rect x="173" y="707.5" width="2" height="4.5" fill="#ffcdd2"/><rect x="177" y="707.5" width="2" height="3.0" fill="#ffcdd2"/><rect x="181" y="707.5" width="2" height="1.8" fill="#ffcdd2"/><rect x="185" y="707.5" width="2" height="2.0" fill="#ff5252"/><rect x="189" y="707.5" width="2" height="2.2" fill="#ff5252"/><rect x="193" y="707.5" width="2" height="2.2" fill="#ffcdd2"/><rect x="197" y="707.5" width="2" height="1.3" fill="#ffcdd2"/><rect x="201" y="706.8" width="2" height="0.7" fill="#26a69a"/><rect x="205" y="707.1" width="2" height="0.5" fill="#b2dfdb"/><rect x="209" y="706.9" width="2" height="0.6" fill="#26a69a"/><rect x="213" y="707.0" width="2" height="0.5" fill="#b2dfdb"/><rect x="217" y="707.5" width="2" height="2.9" fill="#ff5252"/><rect x="220" y="707.5" width="2" height="7.0" fill="#ff5252"/><rect x="224" y="707.5" width="2" height="12.2" fill="#ff5252"/><rect x="228" y="707.5" width="2" height="14.3" fill="#ff5252"/><rect x="232" y="707.5" width="2" height="15.1" fill="#ff5252"/><rect x="236" y="707.5" width="2" height="13.3" fill="#ffcdd2"/><rect x="240" y="707.5" width="2" height="5.3" fill="#ffcdd2"/><rect x="244" y="707.5" width="2" height="5.5" fill="#ff5252"/><rect x="248" y="707.5" width="2" height="4.3" fill="#ffcdd2"/><rect x="252" y="707.5" width="2" height="0.6" fill="#ffcdd2"/><rect x="256" y="706.2" width="2" height="1.3" fill="#26a69a"/><rect x="260" y="706.9" width="2" height="0.6" fill="#b2dfdb"/><rect x="264" y="707.5" width="2" height="0.5" fill="#ff5252"/><rect x="268" y="707.5" width="2" height="4.3" fill="#ff5252"/><rect x="272" y="707.5" width="2" height="7.9" fill="#ff5252"/><rect x="276" y="707.5" width="2" height="6.3" fill="#ffcdd2"/><rect x="280" y="707.5" width="2" height="4.1" fill="#ffcdd2"/><rect x="284" y="707.5" width="2" height="4.1" fill="#ff5252"/><rect x="288" y="707.5" width="2" height="1.5" fill="#ffcdd2"/><rect x="292" y="706.7" width="2" height="0.8" fill="#26a69a"/><rect x="296" y="706.2" width="2" height="1.3" fill="#26a69a"/><rect x="300" y="704.7" width="2" height="2.8" fill="#26a69a"/><rect x="304" y="704.4" width="2" height="3.1" fill="#26a69a"/><rect x="308" y="700.9" width="2" height="6.6" fill="#26a69a"/><rect x="312" y="700.9" width="2" height="6.6" fill="#26a69a"/><rect x="316" y="701.0" width="2" height="6.5" fill="#b2dfdb"/><rect x="320" y="701.4" width="2" height="6.1" fill="#b2dfdb"/><rect x="324" y="699.9" width="2" height="7.6" fill="#26a69a"/><rect x="328" y="698.1" width="2" height="9.4" fill="#26a69a"/><rect x="331" y="697.5" width="2" height="10.0" fill="#26a69a"/><rect x="335" y="697.8" width="2" height="9.7" fill="#b2dfdb"/><rect x="339" y="698.0" width="2" height="9.5" fill="#b2dfdb"/><rect x="343" y="700.5" width="2" height="7.0" fill="#b2dfdb"/><rect x="347" y="703.6" width="2" height="3.9" fill="#b2dfdb"/><rect x="351" y="705.9" width="2" height="1.6" fill="#b2dfdb"/><rect x="355" y="707.1" width="2" height="0.5" fill="#b2dfdb"/><rect x="359" y="705.8" width="2" height="1.7" fill="#26a69a"/><rect x="363" y="707.1" width="2" height="0.5" fill="#b2dfdb"/><rect x="367" y="707.2" width="2" height="0.5" fill="#b2dfdb"/><rect x="371" y="706.6" width="2" height="0.9" fill="#26a69a"/><rect x="375" y="706.6" width="2" height="0.9" fill="#26a69a"/><rect x="379" y="707.5" width="2" height="2.7" fill="#ff5252"/><rect x="383" y="707.5" width="2" height="4.1" fill="#ff5252"/><rect x="387" y="707.5" width="2" height="6.8" fill="#ff5252"/><rect x="391" y="707.5" width="2" height="3.4" fill="#ffcdd2"/><rect x="395" y="707.5" width="2" height="3.2" fill="#ffcdd2"/><rect x="399" y="707.4" width="2" height="0.5" fill="#26a69a"/><rect x="403" y="703.7" width="2" height="3.8" fill="#26a69a"/><rect x="407" y="702.7" width="2" height="4.8" fill="#26a69a"/><rect x="411" y="701.5" width="2" height="6.0" fill="#26a69a"/><rect x="415" y="701.7" width="2" height="5.8" fill="#b2dfdb"/><rect x="419" y="701.5" width="2" height="6.0" fill="#26a69a"/><rect x="423" y="701.1" width="2" height="6.4" fill="#26a69a"/><rect x="427" y="701.4" width="2" height="6.1" fill="#b2dfdb"/><rect x="431" y="701.4" width="2" height="6.1" fill="#b2dfdb"/><rect x="435" y="701.7" width="2" height="5.8" fill="#b2dfdb"/><rect x="439" y="700.4" width="2" height="7.1" fill="#26a69a"/><rect x="443" y="695.6" width="2" height="11.9" fill="#26a69a"/><rect x="446" y="692.9" width="2" height="14.6" fill="#26a69a"/><rect x="450" y="691.9" width="2" height="15.6" fill="#26a69a"/><rect x="454" y="691.7" width="2" height="15.8" fill="#26a69a"/><rect x="458" y="692.7" width="2" height="14.8" fill="#b2dfdb"/><rect x="462" y="694.7" width="2" height="12.8" fill="#b2dfdb"/><rect x="466" y="695.9" width="2" height="11.6" fill="#b2dfdb"/><rect x="470" y="698.2" width="2" height="9.3" fill="#b2dfdb"/><rect x="474" y="700.2" width="2" height="7.3" fill="#b2dfdb"/><rect x="478" y="700.4" width="2" height="7.1" fill="#b2dfdb"/><rect x="482" y="700.8" width="2" height="6.7" fill="#b2dfdb"/><rect x="486" y="702.5" width="2" height="5.0" fill="#b2dfdb"/><rect x="490" y="705.3" width="2" height="2.2" fill="#b2dfdb"/><rect x="494" y="707.0" width="2" height="0.5" fill="#b2dfdb"/><rect x="498" y="706.9" width="2" height="0.6" fill="#26a69a"/><rect x="502" y="707.0" width="2" height="0.5" fill="#b2dfdb"/><rect x="506" y="702.8" width="2" height="4.7" fill="#26a69a"/><rect x="510" y="701.0" width="2" height="6.5" fill="#26a69a"/><rect x="514" y="699.1" width="2" height="8.4" fill="#26a69a"/><rect x="518" y="699.3" width="2" height="8.2" fill="#b2dfdb"/><rect x="522" y="701.2" width="2" height="6.3" fill="#b2dfdb"/><rect x="526" y="702.0" width="2" height="5.5" fill="#b2dfdb"/><rect x="530" y="703.8" width="2" height="3.7" fill="#b2dfdb"/><rect x="534" y="705.1" width="2" height="2.4" fill="#b2dfdb"/><rect x="538" y="706.8" width="2" height="0.7" fill="#b2dfdb"/><rect x="542" y="707.5" width="2" height="1.1" fill="#ff5252"/><rect x="546" y="707.5" width="2" height="0.5" fill="#ffcdd2"/><rect x="550" y="707.5" width="2" height="0.5" fill="#ff5252"/><rect x="554" y="707.5" width="2" height="0.5" fill="#26a69a"/><rect x="558" y="705.7" width="2" height="1.8" fill="#26a69a"/><rect x="561" y="703.4" width="2" height="4.1" fill="#26a69a"/><rect x="565" y="705.9" width="2" height="1.6" fill="#b2dfdb"/><rect x="569" y="707.5" width="2" height="0.5" fill="#ff5252"/><rect x="573" y="707.5" width="2" height="0.7" fill="#ff5252"/><rect x="577" y="707.5" width="2" height="1.0" fill="#ff5252"/><rect x="581" y="707.5" width="2" height="2.0" fill="#ff5252"/><rect x="585" y="707.5" width="2" height="3.8" fill="#ff5252"/><rect x="589" y="707.5" width="2" height="6.7" fill="#ff5252"/><rect x="593" y="707.5" width="2" height="9.8" fill="#ff5252"/><rect x="597" y="707.5" width="2" height="10.9" fill="#ff5252"/><rect x="601" y="707.5" width="2" height="10.7" fill="#ffcdd2"/><rect x="605" y="707.5" width="2" height="10.1" fill="#ffcdd2"/><rect x="609" y="707.5" width="2" height="9.9" fill="#ffcdd2"/><rect x="613" y="707.5" width="2" height="10.1" fill="#ff5252"/><rect x="617" y="707.5" width="2" height="12.4" fill="#ff5252"/><rect x="621" y="707.5" width="2" height="11.1" fill="#ffcdd2"/><rect x="625" y="707.5" width="2" height="8.9" fill="#ffcdd2"/><rect x="629" y="707.5" width="2" height="7.0" fill="#ffcdd2"/><rect x="633" y="707.5" width="2" height="2.4" fill="#ffcdd2"/><rect x="637" y="707.0" width="2" height="0.5" fill="#26a69a"/><rect x="641" y="706.8" width="2" height="0.7" fill="#26a69a"/><rect x="645" y="707.5" width="2" height="1.4" fill="#ff5252"/><rect x="649" y="707.5" width="2" height="2.4" fill="#ff5252"/><rect x="653" y="707.5" width="2" height="3.6" fill="#ff5252"/><rect x="657" y="707.5" width="2" height="4.0" fill="#ff5252"/><rect x="661" y="707.5" width="2" height="3.4" fill="#ffcdd2"/><rect x="665" y="707.5" width="2" height="4.5" fill="#ff5252"/><rect x="669" y="707.5" width="2" height="4.9" fill="#ff5252"/><rect x="672" y="707.5" width="2" height="5.2" fill="#ff5252"/><rect x="676" y="707.5" width="2" height="6.2" fill="#ff5252"/><rect x="680" y="707.5" width="2" height="7.4" fill="#ff5252"/><rect x="684" y="707.5" width="2" height="8.9" fill="#ff5252"/><rect x="688" y="707.5" width="2" height="5.7" fill="#ffcdd2"/><rect x="692" y="707.5" width="2" height="3.0" fill="#ffcdd2"/><rect x="696" y="707.5" width="2" height="0.5" fill="#ffcdd2"/><rect x="700" y="706.3" width="2" height="1.2" fill="#26a69a"/><rect x="704" y="705.4" width="2" height="2.1" fill="#26a69a"/><rect x="708" y="704.7" width="2" height="2.8" fill="#26a69a"/><rect x="712" y="703.7" width="2" height="3.8" fill="#26a69a"/><rect x="716" y="704.3" width="2" height="3.2" fill="#b2dfdb"/><rect x="720" y="706.0" width="2" height="1.5" fill="#b2dfdb"/><rect x="724" y="704.3" width="2" height="3.2" fill="#26a69a"/><rect x="728" y="703.3" width="2" height="4.2" fill="#26a69a"/><rect x="732" y="704.3" width="2" height="3.2" fill="#b2dfdb"/><rect x="736" y="704.8" width="2" height="2.7" fill="#b2dfdb"/><rect x="740" y="704.7" width="2" height="2.8" fill="#26a69a"/><rect x="744" y="705.6" width="2" height="1.9" fill="#b2dfdb"/><rect x="748" y="705.7" width="2" height="1.8" fill="#b2dfdb"/><rect x="752" y="704.4" width="2" height="3.1" fill="#26a69a"/><rect x="756" y="700.2" width="2" height="7.3" fill="#26a69a"/><rect x="760" y="697.0" width="2" height="10.5" fill="#26a69a"/><rect x="764" y="695.9" width="2" height="11.6" fill="#26a69a"/><rect x="768" y="694.6" width="2" height="12.9" fill="#26a69a"/><rect x="772" y="694.1" width="2" height="13.4" fill="#26a69a"/><rect x="776" y="696.2" width="2" height="11.3" fill="#b2dfdb"/><rect x="780" y="697.7" width="2" height="9.8" fill="#b2dfdb"/><rect x="784" y="699.0" width="2" height="8.5" fill="#b2dfdb"/><rect x="787" y="701.7" width="2" height="5.8" fill="#b2dfdb"/><rect x="791" y="704.0" width="2" height="3.5" fill="#b2dfdb"/><rect x="795" y="706.3" width="2" height="1.2" fill="#b2dfdb"/><rect x="799" y="707.5" width="2" height="0.5" fill="#ff5252"/><rect x="803" y="707.3" width="2" height="0.5" fill="#26a69a"/><rect x="807" y="707.5" width="2" height="0.7" fill="#ff5252"/><rect x="811" y="707.5" width="2" height="1.8" fill="#ff5252"/><rect x="815" y="707.5" width="2" height="3.3" fill="#ff5252"/><rect x="819" y="707.5" width="2" height="4.1" fill="#ff5252"/><rect x="823" y="707.5" width="2" height="3.5" fill="#ffcdd2"/><rect x="827" y="707.5" width="2" height="4.4" fill="#ff5252"/><rect x="831" y="707.5" width="2" height="5.0" fill="#ff5252"/><rect x="835" y="707.5" width="2" height="5.3" fill="#ff5252"/><rect x="839" y="707.5" width="2" height="7.2" fill="#ff5252"/><rect x="843" y="707.5" width="2" height="10.2" fill="#ff5252"/><rect x="847" y="707.5" width="2" height="12.0" fill="#ff5252"/><rect x="851" y="707.5" width="2" height="11.3" fill="#ffcdd2"/><rect x="855" y="707.5" width="2" height="10.0" fill="#ffcdd2"/><rect x="859" y="707.5" width="2" height="9.6" fill="#ffcdd2"/><rect x="863" y="707.5" width="2" height="8.2" fill="#ffcdd2"/><rect x="867" y="707.5" width="2" height="5.1" fill="#ffcdd2"/><rect x="871" y="707.5" width="2" height="3.6" fill="#ffcdd2"/><rect x="875" y="707.5" width="2" height="2.7" fill="#ffcdd2"/><rect x="879" y="707.5" width="2" height="0.5" fill="#ffcdd2"/><rect x="883" y="706.4" width="2" height="1.1" fill="#26a69a"/><rect x="887" y="704.6" width="2" height="2.9" fill="#26a69a"/><rect x="891" y="701.2" width="2" height="6.3" fill="#26a69a"/><rect x="895" y="703.5" width="2" height="4.0" fill="#b2dfdb"/><rect x="898" y="706.0" width="2" height="1.5" fill="#b2dfdb"/><rect x="902" y="707.4" width="2" height="0.5" fill="#b2dfdb"/><rect x="906" y="707.5" width="2" height="0.9" fill="#ff5252"/><rect x="910" y="707.5" width="2" height="2.6" fill="#ff5252"/><rect x="914" y="707.5" width="2" height="6.0" fill="#ff5252"/><rect x="918" y="707.5" width="2" height="6.7" fill="#ff5252"/><rect x="922" y="707.5" width="2" height="8.5" fill="#ff5252"/><rect x="926" y="707.5" width="2" height="5.8" fill="#ffcdd2"/><rect x="930" y="707.5" width="2" height="5.0" fill="#ffcdd2"/><rect x="934" y="707.5" width="2" height="5.6" fill="#ff5252"/><rect x="938" y="707.5" width="2" height="8.1" fill="#ff5252"/><rect x="942" y="707.5" width="2" height="8.1" fill="#ffcdd2"/><rect x="946" y="707.5" width="2" height="7.9" fill="#ffcdd2"/><rect x="950" y="707.5" width="2" height="6.4" fill="#ffcdd2"/><rect x="954" y="707.5" width="2" height="8.2" fill="#ff5252"/><rect x="958" y="707.5" width="2" height="8.4" fill="#ff5252"/><rect x="962" y="707.5" width="2" height="8.5" fill="#ff5252"/><rect x="966" y="707.5" width="2" height="7.2" fill="#ffcdd2"/><rect x="970" y="707.5" width="2" height="4.3" fill="#ffcdd2"/><rect x="974" y="707.5" width="2" height="1.8" fill="#ffcdd2"/><rect x="978" y="707.5" width="2" height="0.8" fill="#ffcdd2"/><rect x="982" y="707.5" width="2" height="0.5" fill="#ffcdd2"/><rect x="986" y="707.3" width="2" height="0.5" fill="#26a69a"/><rect x="990" y="706.2" width="2" height="1.3" fill="#26a69a"/><rect x="994" y="704.6" width="2" height="2.9" fill="#26a69a"/><rect x="998" y="704.2" width="2" height="3.3" fill="#26a69a"/><rect x="1002" y="702.1" width="2" height="5.4" fill="#26a69a"/><rect x="1006" y="699.9" width="2" height="7.6" fill="#26a69a"/><rect x="1010" y="698.4" width="2" height="9.1" fill="#26a69a"/><rect x="1013" y="697.9" width="2" height="9.6" fill="#26a69a"/><rect x="1017" y="698.6" width="2" height="8.9" fill="#b2dfdb"/><rect x="1021" y="699.3" width="2" height="8.2" fill="#b2dfdb"/><rect x="1025" y="699.0" width="2" height="8.5" fill="#26a69a"/><rect x="1029" y="699.7" width="2" height="7.8" fill="#b2dfdb"/><rect x="1033" y="700.1" width="2" height="7.4" fill="#b2dfdb"/><rect x="1037" y="702.0" width="2" height="5.5" fill="#b2dfdb"/><rect x="1041" y="703.2" width="2" height="4.3" fill="#b2dfdb"/><rect x="1045" y="704.6" width="2" height="2.9" fill="#b2dfdb"/><rect x="1049" y="707.5" width="2" height="0.5" fill="#ff5252"/><rect x="1053" y="707.5" width="2" height="2.6" fill="#ff5252"/><rect x="1057" y="707.5" width="2" height="3.0" fill="#ff5252"/><rect x="1061" y="707.5" width="2" height="6.4" fill="#ff5252"/><rect x="1065" y="707.5" width="2" height="7.7" fill="#ff5252"/><rect x="1069" y="707.5" width="2" height="8.2" fill="#ff5252"/><rect x="1073" y="707.5" width="2" height="6.0" fill="#ffcdd2"/><rect x="1077" y="707.5" width="2" height="2.8" fill="#ffcdd2"/><rect x="1081" y="707.5" width="2" height="0.8" fill="#ffcdd2"/><rect x="1085" y="703.6" width="2" height="3.9" fill="#26a69a"/><rect x="1089" y="699.4" width="2" height="8.1" fill="#26a69a"/><rect x="1093" y="696.1" width="2" height="11.4" fill="#26a69a"/><rect x="1097" y="694.4" width="2" height="13.1" fill="#26a69a"/><rect x="1101" y="693.3" width="2" height="14.2" fill="#26a69a"/><rect x="1105" y="692.6" width="2" height="14.9" fill="#26a69a"/><rect x="1109" y="695.5" width="2" height="12.0" fill="#b2dfdb"/><rect x="1113" y="696.6" width="2" height="10.9" fill="#b2dfdb"/><rect x="1117" y="699.5" width="2" height="8.0" fill="#b2dfdb"/><rect x="1121" y="707.5" width="2" height="0.8" fill="#ff5252"/><rect x="1125" y="707.5" width="2" height="8.2" fill="#ff5252"/><rect x="1128" y="707.5" width="2" height="8.7" fill="#ff5252"/><rect x="1132" y="707.5" width="2" height="9.1" fill="#ff5252"/><rect x="1136" y="707.5" width="2" height="10.5" fill="#ff5252"/><rect x="1140" y="707.5" width="2" height="12.8" fill="#ff5252"/><rect x="1144" y="707.5" width="2" height="15.4" fill="#ff5252"/><rect x="1148" y="707.5" width="2" height="17.4" fill="#ff5252"/><rect x="1152" y="707.5" width="2" height="17.2" fill="#ffcdd2"/><rect x="1156" y="707.5" width="2" height="15.1" fill="#ffcdd2"/><rect x="1160" y="707.5" width="2" height="11.5" fill="#ffcdd2"/><rect x="1164" y="707.5" width="2" height="10.2" fill="#ffcdd2"/><rect x="1168" y="707.5" width="2" height="9.3" fill="#ffcdd2"/><rect x="1172" y="707.5" width="2" height="6.7" fill="#ffcdd2"/></g>
<line x1="13" y1="707.5" x2="1704" y2="707.5" stroke="#787b86" stroke-width="1" stroke-dasharray="5 6" stroke-opacity="0.6"/>
<polyline fill="none" stroke="#ff6d00" stroke-width="1.3" points="11.5,705.7 15.5,706.6 19.5,706.8 23.5,705.9 27.5,705.3 31.5,705.3 35.5,706.2 39.5,707.1 43.5,708.1 47.5,709.0 50.5,709.9 54.5,710.3 58.5,709.6 62.5,708.5 66.5,706.3 70.5,703.4 74.5,701.0 78.5,698.7 82.5,696.0 86.5,693.7 90.5,691.7 94.5,689.8 98.5,688.3 102.5,687.4 106.5,687.1 110.5,687.5 114.5,687.8 118.5,687.9 122.5,688.3 126.5,689.3 130.5,691.2 134.5,692.9 138.5,695.1 142.5,697.8 146.5,700.6 150.5,703.4 154.5,706.0 158.5,708.3 162.5,710.2 165.5,712.1 169.5,713.4 173.5,714.5 177.5,715.2 181.5,715.6 185.5,716.1 189.5,716.7 193.5,717.2 197.5,717.6 201.5,717.4 205.5,717.3 209.5,717.1 213.5,717.0 217.5,717.7 221.5,719.5 225.5,722.5 229.5,726.1 233.5,729.9 237.5,733.2 241.5,734.5 245.5,735.9 249.5,737.0 253.5,737.1 257.5,736.8 261.5,736.7 265.5,736.7 269.5,737.7 273.5,739.7 276.5,741.3 280.5,742.3 284.5,743.4 288.5,743.8 292.5,743.6 296.5,743.2 300.5,742.5 304.5,741.7 308.5,740.1 312.5,738.4 316.5,736.8 320.5,735.3 324.5,733.4 328.5,731.1 332.5,728.6 336.5,726.1 340.5,723.7 344.5,722.0 348.5,721.0 352.5,720.6 356.5,720.5 360.5,720.1 364.5,720.0 368.5,719.9 372.5,719.7 376.5,719.5 380.5,720.2 384.5,721.2 388.5,722.9 391.5,723.7 395.5,724.5 399.5,724.5 403.5,723.5 407.5,722.3 411.5,720.8 415.5,719.4 419.5,717.9 423.5,716.3 427.5,714.7 431.5,713.2 435.5,711.8 439.5,710.0 443.5,707.0 447.5,703.4 451.5,699.5 455.5,695.5 459.5,691.8 463.5,688.6 467.5,685.7 471.5,683.4 475.5,681.6 479.5,679.8 483.5,678.1 487.5,676.9 491.5,676.3 495.5,676.2 499.5,676.1 502.5,675.9 506.5,674.8 510.5,673.1 514.5,671.0 518.5,669.0 522.5,667.4 526.5,666.0 530.5,665.1 534.5,664.5 538.5,664.3 542.5,664.6 546.5,664.6 550.5,664.7 554.5,664.7 558.5,664.3 562.5,663.2 566.5,662.8 570.5,662.9 574.5,663.0 578.5,663.3 582.5,663.8 586.5,664.7 590.5,666.4 594.5,668.9 598.5,671.6 602.5,674.2 606.5,676.8 610.5,679.3 614.5,681.8 617.5,684.9 621.5,687.7 625.5,689.9 629.5,691.6 633.5,692.2 637.5,692.1 641.5,691.9 645.5,692.3 649.5,692.9 653.5,693.8 657.5,694.8 661.5,695.6 665.5,696.8 669.5,698.0 673.5,699.3 677.5,700.8 681.5,702.7 685.5,704.9 689.5,706.3 693.5,707.1 697.5,707.2 701.5,706.9 705.5,706.4 709.5,705.7 713.5,704.7 717.5,703.9 721.5,703.5 725.5,702.7 728.5,701.7 732.5,700.9 736.5,700.2 740.5,699.5 744.5,699.0 748.5,698.6 752.5,697.8 756.5,696.0 760.5,693.3 764.5,690.4 768.5,687.2 772.5,683.8 776.5,681.0 780.5,678.6 784.5,676.4 788.5,675.0 792.5,674.1 796.5,673.8 800.5,673.9 804.5,673.9 808.5,674.0 812.5,674.5 816.5,675.3 820.5,676.4 824.5,677.2 828.5,678.3 832.5,679.6 836.5,680.9 840.5,682.7 843.5,685.3 847.5,688.2 851.5,691.1 855.5,693.6 859.5,696.0 863.5,698.0 867.5,699.3 871.5,700.2 875.5,700.9 879.5,700.9 883.5,700.6 887.5,699.9 891.5,698.3 895.5,697.3 899.5,696.9 903.5,696.9 907.5,697.1 911.5,697.7 915.5,699.2 919.5,700.9 923.5,703.0 927.5,704.5 931.5,705.7 935.5,707.1 939.5,709.1 943.5,711.2 947.5,713.1 951.5,714.7 955.5,716.8 958.5,718.9 962.5,721.0 966.5,722.8 970.5,723.9 974.5,724.3 978.5,724.5 982.5,724.6 986.5,724.5 990.5,724.2 994.5,723.5 998.5,722.6 1002.5,721.3 1006.5,719.4 1010.5,717.1 1014.5,714.7 1018.5,712.5 1022.5,710.5 1026.5,708.3 1030.5,706.4 1034.5,704.5 1038.5,703.2 1042.5,702.1 1046.5,701.4 1050.5,701.4 1054.5,702.1 1058.5,702.8 1062.5,704.4 1066.5,706.3 1069.5,708.4 1073.5,709.9 1077.5,710.6 1081.5,710.8 1085.5,709.8 1089.5,707.8 1093.5,704.9 1097.5,701.7 1101.5,698.1 1105.5,694.4 1109.5,691.4 1113.5,688.6 1117.5,686.6 1121.5,686.8 1125.5,688.9 1129.5,691.0 1133.5,693.3 1137.5,695.9 1141.5,699.2 1145.5,703.0 1149.5,707.4 1153.5,711.6 1157.5,715.4 1161.5,718.3 1165.5,720.8 1169.5,723.2 1173.5,724.8"/>
<polyline fill="none" stroke="#2962ff" stroke-width="1.3" points="11.5,712.6 15.5,709.9 19.5,707.7 23.5,702.2 27.5,703.0 31.5,705.5 35.5,709.6 39.5,710.8 43.5,712.0 47.5,712.8 50.5,713.4 54.5,711.9 58.5,707.0 62.5,703.8 66.5,697.5 70.5,692.1 74.5,691.2 78.5,689.7 82.5,685.2 86.5,684.4 90.5,683.6 94.5,682.5 98.5,682.1 102.5,683.9 106.5,686.1 110.5,688.9 114.5,688.9 118.5,688.3 122.5,690.1 126.5,693.4 130.5,698.8 134.5,699.8 138.5,704.0 142.5,708.5 146.5,711.8 150.5,714.4 154.5,716.4 158.5,717.6 162.5,717.9 165.5,719.5 169.5,718.4 173.5,718.9 177.5,718.2 181.5,717.4 185.5,718.1 189.5,718.9 193.5,719.4 197.5,718.9 201.5,716.7 205.5,716.9 209.5,716.6 213.5,716.5 217.5,720.6 221.5,726.5 225.5,734.7 229.5,740.4 233.5,745.0 237.5,746.5 241.5,739.8 245.5,741.4 249.5,741.3 253.5,737.8 257.5,735.5 261.5,736.1 265.5,736.8 269.5,742.0 273.5,747.7 276.5,747.6 280.5,746.5 284.5,747.5 288.5,745.3 292.5,742.7 296.5,742.0 300.5,739.7 304.5,738.6 308.5,733.5 312.5,731.8 316.5,730.3 320.5,729.2 324.5,725.8 328.5,721.7 332.5,718.6 336.5,716.4 340.5,714.2 344.5,715.0 348.5,717.1 352.5,719.1 356.5,720.1 360.5,718.5 364.5,719.6 368.5,719.6 372.5,718.8 376.5,718.6 380.5,722.9 384.5,725.2 388.5,729.7 391.5,727.1 395.5,727.7 399.5,724.3 403.5,719.7 407.5,717.5 411.5,714.8 415.5,713.5 419.5,711.9 423.5,709.8 427.5,708.7 431.5,707.2 435.5,705.9 439.5,702.9 443.5,695.1 447.5,688.8 451.5,683.9 455.5,679.8 459.5,677.0 463.5,675.9 467.5,674.1 471.5,674.1 475.5,674.3 479.5,672.7 483.5,671.4 487.5,671.8 491.5,674.2 495.5,675.8 499.5,675.5 502.5,675.5 506.5,670.1 510.5,666.6 514.5,662.6 518.5,660.8 522.5,661.1 526.5,660.6 530.5,661.4 534.5,662.0 538.5,663.6 542.5,665.8 546.5,664.7 550.5,665.1 554.5,664.7 558.5,662.5 562.5,659.1 566.5,661.2 570.5,662.9 574.5,663.7 578.5,664.3 582.5,665.8 586.5,668.6 590.5,673.1 594.5,678.6 598.5,682.5 602.5,684.9 606.5,686.9 610.5,689.2 614.5,691.9 617.5,697.2 621.5,698.8 625.5,698.7 629.5,698.7 633.5,694.6 637.5,691.6 641.5,691.2 645.5,693.7 649.5,695.3 653.5,697.4 657.5,698.8 661.5,699.0 665.5,701.3 669.5,702.9 673.5,704.5 677.5,707.0 681.5,710.1 685.5,713.8 689.5,712.1 693.5,710.2 697.5,707.4 701.5,705.7 705.5,704.3 709.5,702.8 713.5,700.9 717.5,700.7 721.5,702.0 725.5,699.5 728.5,697.5 732.5,697.6 736.5,697.5 740.5,696.7 744.5,697.1 748.5,696.8 752.5,694.7 756.5,688.6 760.5,682.9 764.5,678.8 768.5,674.3 772.5,670.4 776.5,669.7 780.5,668.8 784.5,667.9 788.5,669.2 792.5,670.6 796.5,672.6 800.5,674.3 804.5,673.6 808.5,674.7 812.5,676.4 816.5,678.6 820.5,680.4 824.5,680.7 828.5,682.7 832.5,684.5 836.5,686.2 840.5,689.9 843.5,695.5 847.5,700.2 851.5,702.4 855.5,703.6 859.5,705.5 863.5,706.2 867.5,704.3 871.5,703.8 875.5,703.6 879.5,700.9 883.5,699.5 887.5,697.0 891.5,692.0 895.5,693.3 899.5,695.4 903.5,696.7 907.5,698.0 911.5,700.4 915.5,705.2 919.5,707.6 923.5,711.5 927.5,710.3 931.5,710.7 935.5,712.7 939.5,717.2 943.5,719.2 947.5,721.0 951.5,721.1 955.5,725.0 958.5,727.3 962.5,729.6 966.5,730.1 970.5,728.2 974.5,726.1 978.5,725.3 982.5,724.6 986.5,724.3 990.5,722.8 994.5,720.6 998.5,719.3 1002.5,715.9 1006.5,711.8 1010.5,708.0 1014.5,705.1 1018.5,703.6 1022.5,702.3 1026.5,699.9 1030.5,698.6 1034.5,697.1 1038.5,697.6 1042.5,697.8 1046.5,698.5 1050.5,701.5 1054.5,704.7 1058.5,705.8 1062.5,710.8 1066.5,714.0 1069.5,716.6 1073.5,715.9 1077.5,713.4 1081.5,711.6 1085.5,705.9 1089.5,699.7 1093.5,693.5 1097.5,688.5 1101.5,683.8 1105.5,679.4 1109.5,679.3 1113.5,677.7 1117.5,678.6 1121.5,687.7 1125.5,697.0 1129.5,699.7 1133.5,702.4 1137.5,706.5 1141.5,712.0 1145.5,718.4 1149.5,724.7 1153.5,728.8 1157.5,730.5 1161.5,729.8 1165.5,731.0 1169.5,732.5 1173.5,731.5"/>
</g>
<rect x="13" y="34" width="1787" height="758" fill="none" stroke="#efefef" stroke-width="2"/><line x1="13" y1="752.5" x2="1704" y2="752.5" stroke="#f0f3fa"/><line x1="126.5" y1="752" x2="126.5" y2="756" stroke="#f0f3fa"/><line x1="237.5" y1="752" x2="237.5" y2="756" stroke="#f0f3fa"/><line x1="360.5" y1="752" x2="360.5" y2="756" stroke="#f0f3fa"/><line x1="479.5" y1="752" x2="479.5" y2="756" stroke="#f0f3fa"/><line x1="602.5" y1="752" x2="602.5" y2="756" stroke="#f0f3fa"/><line x1="721.5" y1="752" x2="721.5" y2="756" stroke="#f0f3fa"/><line x1="843.5" y1="752" x2="843.5" y2="756" stroke="#f0f3fa"/><line x1="966.5" y1="752" x2="966.5" y2="756" stroke="#f0f3fa"/><line x1="1085.5" y1="752" x2="1085.5" y2="756" stroke="#f0f3fa"/><line x1="1208.5" y1="752" x2="1208.5" y2="756" stroke="#f0f3fa"/><line x1="1327.5" y1="752" x2="1327.5" y2="756" stroke="#f0f3fa"/><line x1="1450.5" y1="752" x2="1450.5" y2="756" stroke="#f0f3fa"/><line x1="1573.5" y1="752" x2="1573.5" y2="756" stroke="#f0f3fa"/><line x1="1684.5" y1="752" x2="1684.5" y2="756" stroke="#f0f3fa"/>
<text x="12.5" y="24.9" font-size="14.85" fill="#131722" textLength="73.5" lengthAdjust="spacingAndGlyphs">M_MTrades</text><text x="89.6" y="24.9" font-size="14.85" fill="#131722" textLength="52.3" lengthAdjust="spacingAndGlyphs">created</text><text x="146.2" y="24.9" font-size="14.85" fill="#131722" textLength="29.7" lengthAdjust="spacingAndGlyphs">with</text><text x="180.2" y="24.9" font-size="14.85" fill="#131722" textLength="117.8" lengthAdjust="spacingAndGlyphs">TradingView.com,</text><text x="303.5" y="24.9" font-size="14.85" fill="#131722" textLength="23.9" lengthAdjust="spacingAndGlyphs">Oct</text><text x="332.4" y="24.9" font-size="14.85" fill="#131722" textLength="19.3" lengthAdjust="spacingAndGlyphs">23,</text><text x="357.1" y="24.9" font-size="14.85" fill="#131722" textLength="31.9" lengthAdjust="spacingAndGlyphs">2025</text><text x="394.1" y="24.9" font-size="14.85" fill="#131722" textLength="35.8" lengthAdjust="spacingAndGlyphs">13:03</text><text x="434.9" y="24.9" font-size="14.85" fill="#131722" textLength="65.2" lengthAdjust="spacingAndGlyphs">UTC+5:30</text><text x="23.6" y="58.6" font-size="14.5" fill="#131722" textLength="45.9" lengthAdjust="spacingAndGlyphs">Bitcoin</text><text x="75.2" y="58.6" font-size="14.5" fill="#131722" textLength="4.6" lengthAdjust="spacingAndGlyphs">/</text><text x="87.4" y="58.6" font-size="14.5" fill="#131722" textLength="58.8" lengthAdjust="spacingAndGlyphs">TetherUS</text><text x="152.6" y="58.6" font-size="14.5" fill="#131722" textLength="3.5" lengthAdjust="spacingAndGlyphs">·</text><text x="162" y="58.6" font-size="14.5" fill="#131722" textLength="15.7" lengthAdjust="spacingAndGlyphs">1D</text><text x="184.5" y="58.6" font-size="14.5" fill="#131722" textLength="3.5" lengthAdjust="spacingAndGlyphs">·</text><text x="193.5" y="58.6" font-size="14.5" fill="#131722" textLength="51.5" lengthAdjust="spacingAndGlyphs">Binance</text><text x="254.3" y="58.8" font-size="14.5" fill="#131722" font-weight="400" text-anchor="start">O</text><text x="265.2" y="58.8" font-size="14.5" fill="#089981" font-weight="400" text-anchor="start">107,567.45</text><text x="347.5" y="58.8" font-size="14.5" fill="#131722" font-weight="400" text-anchor="start">H</text><text x="358" y="58.8" font-size="14.5" fill="#089981" font-weight="400" text-anchor="start">110,298.29</text><text x="440.7" y="58.8" font-size="14.5" fill="#131722" font-weight="400" text-anchor="start">L</text><text x="449.3" y="58.8" font-size="14.5" fill="#089981" font-weight="400" text-anchor="start">107,500.00</text><text x="531" y="58.8" font-size="14.5" fill="#131722" font-weight="400" text-anchor="start">C</text><text x="540.5" y="58.8" font-size="14.5" fill="#089981" font-weight="400" text-anchor="start">109,508.42</text><text x="623.6" y="58.8" font-size="14.5" fill="#089981" font-weight="400" text-anchor="start">+1,940.98 (+1.80%)</text><text x="1198" y="120.1" font-size="14.4" fill="#131722" font-weight="400" text-anchor="start">100.00% (126,199.63)</text><text x="1198" y="176.1" font-size="14.4" fill="#131722" font-weight="400" text-anchor="start">78.60% (115,137.62)</text><text x="1198" y="220.1" font-size="14.4" fill="#131722" font-weight="400" text-anchor="start">61.80% (106,453.43)</text><text x="1198" y="251.1" font-size="14.4" fill="#131722" font-weight="400" text-anchor="start">50.00% (100,353.82)</text><text x="1198" y="382.1" font-size="14.4" fill="#131722" font-weight="400" text-anchor="start">0.00% (74,508.00)</text><text x="1694.5" y="108" font-size="14.3" fill="#4caf50" font-weight="700" text-anchor="end">New ATH</text><text x="1694.5" y="138.5" font-size="14.15" fill="#2962ff" font-weight="700" text-anchor="end">Psychological level</text><text x="1781" y="303.6" font-size="14.5" fill="#131722" font-weight="400" text-anchor="end">90,000.00</text><text x="1781" y="354.6" font-size="14.5" fill="#131722" font-weight="400" text-anchor="end">80,000.00</text><text x="1781" y="405.6" font-size="14.5" fill="#131722" font-weight="400" text-anchor="end">70,000.00</text><text x="1781" y="252.6" font-size="14.5" fill="#131722" font-weight="400" text-anchor="end">100,000.00</text><g clip-path="url(#cliprsi)"><text x="1752" y="452.2" font-size="14.5" fill="#131722" font-weight="400" text-anchor="end">80.00</text><text x="1752" y="494.2" font-size="14.5" fill="#131722" font-weight="400" text-anchor="end">60.00</text><text x="1752" y="578.2" font-size="14.5" fill="#131722" font-weight="400" text-anchor="end">20.00</text></g><text x="1774" y="665.1" font-size="14.5" fill="#131722" font-weight="400" text-anchor="end">4,000.00</text><text x="1752" y="711.2" font-size="14.5" fill="#131722" font-weight="400" text-anchor="end">0.00</text><path d="M1705 84 H1794 Q1797 84 1797 87 V101.5 Q1797 104.5 1794 104.5 H1705 Z" fill="#2962ff"/><text x="1789.5" y="98.5" font-size="14.5" fill="#fff" text-anchor="end">130,000.00</text><path d="M1705 106 H1794 Q1797 106 1797 109 V123.5 Q1797 126.5 1794 126.5 H1705 Z" fill="#4caf50"/><text x="1789.5" y="120.5" font-size="14.5" fill="#fff" text-anchor="end">126,199.63</text><path d="M1705 137 H1794 Q1797 137 1797 140 V154.5 Q1797 157.5 1794 157.5 H1705 Z" fill="#2962ff"/><text x="1789.5" y="151.6" font-size="14.5" fill="#fff" text-anchor="end">120,000.00</text><path d="M1705 169 H1794 Q1797 169 1797 172 V186.5 Q1797 189.5 1794 189.5 H1705 Z" fill="#ff0000"/><text x="1789.5" y="183.6" font-size="14.5" fill="#fff" text-anchor="end">113,423.65</text><path d="M1705 189.5 H1794 Q1797 189.5 1797 192.5 V226 Q1797 229 1794 229 H1705 Z" fill="#089981"/><text x="1789.5" y="204.1" font-size="14.5" fill="#fff" text-anchor="end">109,508.42</text><text x="1716.5" y="223.0" font-size="14.5" fill="#fff" fill-opacity="0.8">16:26:53</text><path d="M1705 229 H1794 Q1797 229 1797 232 V246.5 Q1797 249.5 1794 249.5 H1705 Z" fill="#9c27b0"/><text x="1789.5" y="243.6" font-size="14.5" fill="#fff" text-anchor="end">102,000.00</text><path d="M1705 314.5 H1785 Q1788 314.5 1788 317.5 V332 Q1788 335 1785 335 H1705 Z" fill="#f23645"/><text x="1780.5" y="329.1" font-size="14.5" fill="#fff" text-anchor="end">85,000.00</text><path d="M1705 372 H1785 Q1788 372 1788 375 V389.5 Q1788 392.5 1785 392.5 H1705 Z" fill="#9c27b0"/><text x="1780.5" y="386.6" font-size="14.5" fill="#fff" text-anchor="end">73,719.53</text><path d="M1705 513 H1756 Q1759 513 1759 516 V530.7 Q1759 533.7 1756 533.7 H1705 Z" fill="#7e57c2"/><text x="1751.5" y="527.6" font-size="14.5" fill="#fff" text-anchor="end">43.91</text><path d="M1705 533.7 H1756 Q1759 533.7 1759 536.7 V551.7 Q1759 554.7 1756 554.7 H1705 Z" fill="#fdd835"/><text x="1751.5" y="548.5" font-size="14.5" fill="#131722" text-anchor="end">41.22</text><path d="M1705 625 H1760 Q1763 625 1763 628 V642.5 Q1763 645.5 1760 645.5 H1705 Z" fill="#26a69a"/><text x="1755.5" y="639.5" font-size="14.5" fill="#fff" text-anchor="end">5.36 K</text><path d="M1705 703 H1772 Q1775 703 1775 706 V720.5 Q1775 723.5 1772 723.5 H1705 Z" fill="#ffcdd2"/><text x="1767.5" y="717.5" font-size="14.5" fill="#131722" text-anchor="end">−586.83</text><path d="M1705 723.5 H1785 Q1788 723.5 1788 726.5 V742.5 Q1788 745.5 1785 745.5 H1705 Z" fill="#ff6d00"/><text x="1780.5" y="738.8" font-size="14.5" fill="#fff" text-anchor="end">−1,521.56</text><g clip-path="url(#clipm)"><path d="M1705 745.5 H1785 Q1788 745.5 1788 748.5 V763 Q1788 766 1785 766 H1705 Z" fill="#2962ff"/><text x="1780.5" y="760.0" font-size="14.5" fill="#fff" text-anchor="end">−2,108.39</text></g><rect x="227.7" y="122" width="2" height="2" fill="#4caf50" fill-opacity="0.8"/><rect x="398.4" y="251.4" width="2" height="2" fill="#4caf50" fill-opacity="0.8"/><rect x="172.4" y="276.8" width="2" height="2" fill="#f23645" fill-opacity="0.8"/><rect x="228" y="252" width="2" height="2" fill="#f23645" fill-opacity="0.8"/><rect x="664.3" y="236.7" width="2" height="2" fill="#f23645" fill-opacity="0.8"/><rect x="707.4" y="245.5" width="2" height="2" fill="#4caf50" fill-opacity="0.8"/><rect x="719.4" y="205" width="2" height="2" fill="#4caf50" fill-opacity="0.8"/><rect x="668" y="219.5" width="2" height="2" fill="#4caf50" fill-opacity="0.8"/><rect x="775" y="237" width="2" height="2" fill="#4caf50" fill-opacity="0.8"/><rect x="862" y="184.8" width="2" height="2" fill="#f23645" fill-opacity="0.8"/><rect x="720" y="290" width="2" height="2" fill="#f23645" fill-opacity="0.8"/><rect x="723.6" y="290" width="2" height="2" fill="#f23645" fill-opacity="0.8"/><rect x="997" y="291" width="2" height="2" fill="#f23645" fill-opacity="0.8"/><rect x="1033" y="225.5" width="2" height="2" fill="#4caf50" fill-opacity="0.8"/><rect x="1036.6" y="237" width="2" height="2" fill="#f23645" fill-opacity="0.8"/><rect x="327" y="358" width="2" height="2" fill="#4caf50" fill-opacity="0.8"/><rect x="386.6" y="363.5" width="2" height="2" fill="#4caf50" fill-opacity="0.8"/><rect x="787" y="160" width="3" height="3" fill="#000"/><rect x="1709" y="39.5" width="88.5" height="31" rx="6" fill="#fff" stroke="#e0e3eb" stroke-width="1"/><text x="1720.5" y="59.8" font-size="13" fill="#131722" font-weight="400" text-anchor="start">USDT</text><text x="126.5" y="780" font-size="14.5" fill="#131722" font-weight="400" text-anchor="middle">Feb</text><text x="237.5" y="780" font-size="14.5" fill="#131722" font-weight="400" text-anchor="middle">Mar</text><text x="360.5" y="780" font-size="14.5" fill="#131722" font-weight="400" text-anchor="middle">Apr</text><text x="479.5" y="780" font-size="14.5" fill="#131722" font-weight="400" text-anchor="middle">May</text><text x="602.5" y="780" font-size="14.5" fill="#131722" font-weight="400" text-anchor="middle">Jun</text><text x="721.5" y="780" font-size="14.5" fill="#131722" font-weight="400" text-anchor="middle">Jul</text><text x="843.5" y="780" font-size="14.5" fill="#131722" font-weight="400" text-anchor="middle">Aug</text><text x="966.5" y="780" font-size="14.5" fill="#131722" font-weight="400" text-anchor="middle">Sep</text><text x="1085.5" y="780" font-size="14.5" fill="#131722" font-weight="400" text-anchor="middle">Oct</text><text x="1208.5" y="780" font-size="14.5" fill="#131722" font-weight="400" text-anchor="middle">Nov</text><text x="1327.5" y="780" font-size="14.5" fill="#131722" font-weight="400" text-anchor="middle">Dec</text><text x="1450.5" y="780" font-size="14.5" fill="#131722" font-weight="700" text-anchor="middle">2026</text><text x="1573.5" y="780" font-size="14.5" fill="#131722" font-weight="400" text-anchor="middle">Feb</text><text x="1684.5" y="780" font-size="14.5" fill="#131722" font-weight="400" text-anchor="middle">Mar</text>
<g fill="#141414">
<path d="M15.6 819.6 H30.4 V838.1 H23.2 V827.1 H15.6 Z"/>
<circle cx="36.4" cy="822.6" r="2.9"/>
<path d="M42.5 819.6 H52.7 L46.3 838.1 H36.2 Z"/>
</g>
<text x="62" y="838.1" font-size="25.6" font-weight="700" fill="#141414" textLength="151" lengthAdjust="spacingAndGlyphs">TradingView</text>
</svg>
</body></html>
